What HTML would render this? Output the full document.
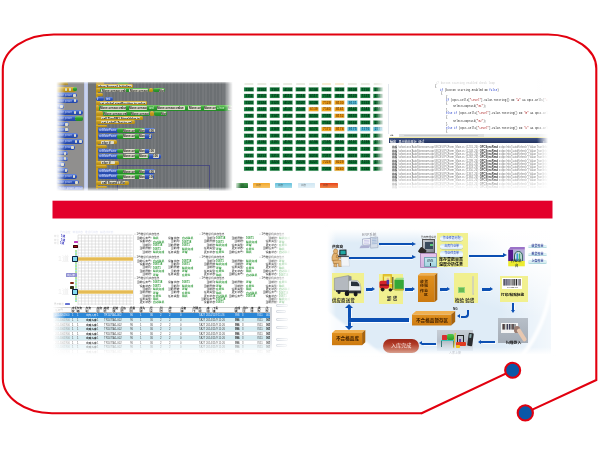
<!DOCTYPE html>
<html lang="zh"><head><meta charset="utf-8"><title>WMS</title><style>
html,body{margin:0;padding:0;background:#fff;}
body{width:600px;height:450px;position:relative;overflow:hidden;font-family:"Liberation Sans","Noto Sans CJK SC",sans-serif;}
div,span{position:absolute;box-sizing:border-box;}
.layer{left:0;top:0;width:600px;height:450px;}
.t{white-space:nowrap;line-height:1;}
.m{white-space:nowrap;line-height:1;font-family:"Liberation Mono","Noto Sans CJK SC",monospace;}
.s{transform:scale(.25);transform-origin:0 0;}
.frame{position:absolute;left:0;top:0;}
.bar{left:52.5px;top:200.7px;width:500px;height:17.8px;background:#e3002a;}
</style></head><body>
<div class="layer" style="filter:blur(0.5px)"><div style="left:56.00px;top:81.50px;width:28.00px;height:109.60px;background:#908f8e;"></div><div style="left:83.50px;top:81.50px;width:4.00px;height:109.60px;background:linear-gradient(90deg,#b2bee2,#d0d8f2 50%,#b6c2e4);"></div><div style="left:87.50px;top:81.50px;width:145.00px;height:109.60px;background:repeating-linear-gradient(90deg,#6c7073 0 1.7px,#75787b 1.7px 3.4px);"></div><div style="left:87.50px;top:81.50px;width:8.00px;height:109.60px;background:#727577;"></div><div style="left:117.00px;top:164.60px;width:92.50px;height:26.00px;border:0.6px solid #3d3f80;border-bottom:none;opacity:.75;"></div><div style="left:56.00px;top:87.00px;width:20.00px;height:4.50px;background:linear-gradient(#e3c25a,#c49a1c 45%,#b48a12);border-radius:0 2px 2px 0;"></div><div style="left:73.00px;top:87.30px;width:4.00px;height:3.90px;background:linear-gradient(#7fd070,#2f9e30 45%,#238a26);border-radius:1.5px;"></div><div style="left:65.00px;top:87.80px;width:2.20px;height:2.90px;background:#dedccb;border-radius:.8px;"></div><div style="left:69.00px;top:87.80px;width:2.20px;height:2.90px;background:#dedccb;border-radius:.8px;"></div><div style="left:54.00px;top:92.70px;width:23.00px;height:4.60px;background:linear-gradient(#6f8fe0,#2f55bb 45%,#2446a6);border-radius:0 2.2px 2.2px 0;overflow:hidden;"><span class="t s" style="left:3.00px;top:1.00px;font-size:10.80px;color:#c4cef4;">motor power</span></div><div style="left:73.40px;top:93.50px;width:2.30px;height:3.00px;background:#dedccb;border-radius:.8px;"></div><div style="left:54.00px;top:98.50px;width:23.50px;height:4.70px;background:linear-gradient(#6f8fe0,#2f55bb 45%,#2446a6);border-radius:0 2.2px 2.2px 0;overflow:hidden;"><span class="t s" style="left:3.00px;top:1.00px;font-size:10.80px;color:#c4cef4;">motor power</span></div><div style="left:73.90px;top:99.30px;width:2.30px;height:3.10px;background:#dedccb;border-radius:.8px;"></div><div style="left:54.00px;top:104.40px;width:10.00px;height:4.70px;background:linear-gradient(#6f8fe0,#2f55bb 45%,#2446a6);border-radius:0 2.2px 2.2px 0;overflow:hidden;"><span class="t s" style="left:3.00px;top:1.00px;font-size:10.80px;color:#c4cef4;">motor power</span></div><div style="left:60.40px;top:105.20px;width:2.30px;height:3.10px;background:#dedccb;border-radius:.8px;"></div><div style="left:54.00px;top:110.20px;width:28.50px;height:4.70px;background:linear-gradient(#6f8fe0,#2f55bb 45%,#2446a6);border-radius:0 2.2px 2.2px 0;overflow:hidden;"><span class="t s" style="left:3.00px;top:1.00px;font-size:10.80px;color:#c4cef4;">motor power</span></div><div style="left:78.90px;top:111.00px;width:2.30px;height:3.10px;background:#dedccb;border-radius:.8px;"></div><div style="left:74.00px;top:111.00px;width:2.30px;height:3.10px;background:#dedccb;border-radius:.8px;"></div><div style="left:54.00px;top:116.00px;width:29.30px;height:4.70px;background:linear-gradient(#6f8fe0,#2f55bb 45%,#2446a6);border-radius:0 2.2px 2.2px 0;overflow:hidden;"><span class="t s" style="left:3.00px;top:1.00px;font-size:10.80px;color:#c4cef4;">motor power</span></div><div style="left:79.70px;top:116.80px;width:2.30px;height:3.10px;background:#dedccb;border-radius:.8px;"></div><div style="left:74.80px;top:116.80px;width:2.30px;height:3.10px;background:#dedccb;border-radius:.8px;"></div><div style="left:75.30px;top:116.00px;width:8.00px;height:4.70px;background:linear-gradient(#7fd070,#2f9e30 45%,#238a26);border-radius:2px;"></div><div style="left:54.00px;top:121.80px;width:15.00px;height:4.70px;background:linear-gradient(#6f8fe0,#2f55bb 45%,#2446a6);border-radius:0 2.2px 2.2px 0;overflow:hidden;"><span class="t s" style="left:3.00px;top:1.00px;font-size:10.80px;color:#c4cef4;">motor power</span></div><div style="left:65.40px;top:122.60px;width:2.30px;height:3.10px;background:#dedccb;border-radius:.8px;"></div><div style="left:54.00px;top:127.60px;width:15.00px;height:4.70px;background:linear-gradient(#6f8fe0,#2f55bb 45%,#2446a6);border-radius:0 2.2px 2.2px 0;overflow:hidden;"><span class="t s" style="left:3.00px;top:1.00px;font-size:10.80px;color:#c4cef4;">motor power</span></div><div style="left:65.40px;top:128.40px;width:2.30px;height:3.10px;background:#dedccb;border-radius:.8px;"></div><div style="left:54.00px;top:133.40px;width:23.50px;height:4.70px;background:linear-gradient(#6f8fe0,#2f55bb 45%,#2446a6);border-radius:0 2.2px 2.2px 0;overflow:hidden;"><span class="t s" style="left:3.00px;top:1.00px;font-size:10.80px;color:#c4cef4;">motor power</span></div><div style="left:73.90px;top:134.20px;width:2.30px;height:3.10px;background:#dedccb;border-radius:.8px;"></div><div style="left:54.00px;top:139.20px;width:29.00px;height:4.70px;background:linear-gradient(#6f8fe0,#2f55bb 45%,#2446a6);border-radius:0 2.2px 2.2px 0;overflow:hidden;"><span class="t s" style="left:3.00px;top:1.00px;font-size:10.80px;color:#c4cef4;">motor power</span></div><div style="left:79.40px;top:140.00px;width:2.30px;height:3.10px;background:#dedccb;border-radius:.8px;"></div><div style="left:74.50px;top:140.00px;width:2.30px;height:3.10px;background:#dedccb;border-radius:.8px;"></div><div style="left:54.00px;top:145.00px;width:21.00px;height:4.70px;background:linear-gradient(#6f8fe0,#2f55bb 45%,#2446a6);border-radius:0 2.2px 2.2px 0;overflow:hidden;"><span class="t s" style="left:3.00px;top:1.00px;font-size:10.80px;color:#c4cef4;">motor power</span></div><div style="left:71.40px;top:145.80px;width:2.30px;height:3.10px;background:#dedccb;border-radius:.8px;"></div><div style="left:54.00px;top:150.80px;width:13.50px;height:4.70px;background:linear-gradient(#6f8fe0,#2f55bb 45%,#2446a6);border-radius:0 2.2px 2.2px 0;overflow:hidden;"><span class="t s" style="left:3.00px;top:1.00px;font-size:10.80px;color:#c4cef4;">motor power</span></div><div style="left:63.90px;top:151.60px;width:2.30px;height:3.10px;background:#dedccb;border-radius:.8px;"></div><div style="left:54.00px;top:156.60px;width:13.50px;height:4.70px;background:linear-gradient(#6f8fe0,#2f55bb 45%,#2446a6);border-radius:0 2.2px 2.2px 0;overflow:hidden;"><span class="t s" style="left:3.00px;top:1.00px;font-size:10.80px;color:#c4cef4;">motor power</span></div><div style="left:63.90px;top:157.40px;width:2.30px;height:3.10px;background:#dedccb;border-radius:.8px;"></div><div style="left:54.00px;top:162.40px;width:11.00px;height:4.70px;background:linear-gradient(#6f8fe0,#2f55bb 45%,#2446a6);border-radius:0 2.2px 2.2px 0;overflow:hidden;"><span class="t s" style="left:3.00px;top:1.00px;font-size:10.80px;color:#c4cef4;">motor power</span></div><div style="left:61.40px;top:163.20px;width:2.30px;height:3.10px;background:#dedccb;border-radius:.8px;"></div><div style="left:54.00px;top:168.20px;width:14.30px;height:4.70px;background:linear-gradient(#6f8fe0,#2f55bb 45%,#2446a6);border-radius:0 2.2px 2.2px 0;overflow:hidden;"><span class="t s" style="left:3.00px;top:1.00px;font-size:10.80px;color:#c4cef4;">motor power</span></div><div style="left:64.70px;top:169.00px;width:2.30px;height:3.10px;background:#dedccb;border-radius:.8px;"></div><div style="left:54.00px;top:174.00px;width:22.70px;height:4.70px;background:linear-gradient(#6f8fe0,#2f55bb 45%,#2446a6);border-radius:0 2.2px 2.2px 0;overflow:hidden;"><span class="t s" style="left:3.00px;top:1.00px;font-size:10.80px;color:#c4cef4;">motor power</span></div><div style="left:73.10px;top:174.80px;width:2.30px;height:3.10px;background:#dedccb;border-radius:.8px;"></div><div style="left:54.00px;top:179.80px;width:25.00px;height:4.70px;background:linear-gradient(#6f8fe0,#2f55bb 45%,#2446a6);border-radius:0 2.2px 2.2px 0;overflow:hidden;"><span class="t s" style="left:3.00px;top:1.00px;font-size:10.80px;color:#c4cef4;">motor power</span></div><div style="left:75.40px;top:180.60px;width:2.30px;height:3.10px;background:#dedccb;border-radius:.8px;"></div><div style="left:56.00px;top:185.60px;width:27.30px;height:4.70px;background:#8193d4;border-radius:0 2px 2px 0;overflow:hidden;"><span class="t s" style="left:3.00px;top:1.00px;font-size:10.80px;color:#dfe6ff;">motor power sensor</span></div><div style="left:56.00px;top:82.00px;width:12.00px;height:2.80px;background:linear-gradient(#e3c25a,#c49a1c 45%,#b48a12);border-radius:0 1.5px 0 0;opacity:.75;"></div><div style="left:95.60px;top:84.00px;width:2.20px;height:104.50px;background:#c39a1e;"></div><div style="left:95.80px;top:82.30px;width:8.50px;height:2.00px;background:#cfa83a;border-radius:1px 1px 0 0;opacity:.8;"></div><div style="left:118.00px;top:82.30px;width:10.00px;height:2.00px;background:#58b04c;border-radius:1px 1px 0 0;opacity:.8;"></div><div style="left:96.00px;top:84.00px;width:37.30px;height:3.70px;background:linear-gradient(#e3c25a,#c49a1c 45%,#b48a12);border-radius:1.5px;"></div><div style="left:98.00px;top:84.70px;width:34.00px;height:2.30px;background:#dedccb;border-radius:.8px;overflow:hidden;"><span class="t s" style="left:0.40px;top:-0.10px;font-size:12.00px;color:#1a1a1a;font-weight:bold;">when Screen1.Initialize do</span></div><div style="left:96.00px;top:88.30px;width:4.50px;height:4.00px;background:linear-gradient(#e3c25a,#c49a1c 45%,#b48a12);border-radius:1.5px;"></div><div style="left:100.00px;top:88.30px;width:48.70px;height:4.00px;background:linear-gradient(#7fd070,#2f9e30 45%,#238a26);border-radius:2px;"></div><div style="left:101.30px;top:89.00px;width:24.70px;height:2.60px;background:#dedccb;border-radius:.8px;overflow:hidden;"><span class="t s" style="left:0.40px;top:-0.10px;font-size:12.00px;color:#1a1a1a;font-weight:bold;">Move.sensor.value</span></div><div style="left:129.30px;top:89.00px;width:18.70px;height:2.60px;background:#dedccb;border-radius:.8px;overflow:hidden;"><span class="t s" style="left:0.40px;top:-0.10px;font-size:12.00px;color:#1a1a1a;font-weight:bold;">Move.sensor.value</span></div><div style="left:148.70px;top:88.30px;width:4.00px;height:4.00px;background:linear-gradient(#e3c25a,#c49a1c 45%,#b48a12);border-radius:1.5px;"></div><div style="left:152.70px;top:88.30px;width:12.00px;height:4.00px;background:linear-gradient(#7fd070,#2f9e30 45%,#238a26);border-radius:2px;"></div><div style="left:158.50px;top:89.00px;width:5.00px;height:2.60px;background:#dedccb;border-radius:.8px;overflow:hidden;"><span class="t s" style="left:0.40px;top:-0.10px;font-size:12.00px;color:#1a1a1a;font-weight:bold;">Move.sensor.value</span></div><div style="left:96.00px;top:93.00px;width:6.70px;height:2.70px;background:linear-gradient(#e3c25a,#c49a1c 45%,#b48a12);border-radius:1.5px;"></div><div style="left:96.40px;top:96.70px;width:7.60px;height:4.00px;background:linear-gradient(#6f8fe0,#2f55bb 45%,#2446a6);border-radius:2px;"></div><div style="left:104.70px;top:96.70px;width:8.60px;height:4.00px;background:linear-gradient(#6f8fe0,#2f55bb 45%,#2446a6);border-radius:2px;"></div><span class="t s" style="left:97.40px;top:97.60px;font-size:10.40px;color:#fff;">if</span><span class="t s" style="left:106.00px;top:97.60px;font-size:10.40px;color:#fff;">test</span><div style="left:96.00px;top:101.00px;width:51.30px;height:3.70px;background:linear-gradient(#e3c25a,#c49a1c 45%,#b48a12);border-radius:1.5px;"></div><div style="left:100.00px;top:101.70px;width:46.00px;height:2.30px;background:#dedccb;border-radius:.8px;overflow:hidden;"><span class="t s" style="left:0.40px;top:-0.10px;font-size:12.00px;color:#1a1a1a;font-weight:bold;">set global startPosition to value</span></div><div style="left:96.00px;top:105.20px;width:3.30px;height:5.40px;background:linear-gradient(#e3c25a,#c49a1c 45%,#b48a12);border-radius:1.5px;"></div><div style="left:98.80px;top:105.20px;width:133.70px;height:5.40px;background:linear-gradient(#7fd070,#2f9e30 45%,#238a26);border-radius:2px;"></div><div style="left:99.80px;top:105.90px;width:26.20px;height:4.00px;background:#dedccb;border-radius:.8px;overflow:hidden;"><span class="t s" style="left:0.40px;top:-0.10px;font-size:12.00px;color:#1a1a1a;font-weight:bold;">Move.sensor.value</span></div><div style="left:128.70px;top:105.90px;width:18.60px;height:4.00px;background:#dedccb;border-radius:.8px;overflow:hidden;"><span class="t s" style="left:0.40px;top:-0.10px;font-size:12.00px;color:#1a1a1a;font-weight:bold;">Move.sensor.value</span></div><div style="left:156.70px;top:105.90px;width:28.30px;height:4.00px;background:#dedccb;border-radius:.8px;overflow:hidden;"><span class="t s" style="left:0.40px;top:-0.10px;font-size:12.00px;color:#1a1a1a;font-weight:bold;">Move.sensor.value</span></div><div style="left:188.30px;top:105.90px;width:12.50px;height:4.00px;background:#dedccb;border-radius:.8px;overflow:hidden;"><span class="t s" style="left:0.40px;top:-0.10px;font-size:12.00px;color:#1a1a1a;font-weight:bold;">Move.sensor.value</span></div><div style="left:204.00px;top:105.90px;width:11.80px;height:4.00px;background:#dedccb;border-radius:.8px;overflow:hidden;"><span class="t s" style="left:0.40px;top:-0.10px;font-size:12.00px;color:#1a1a1a;font-weight:bold;">Move.sensor.value</span></div><div style="left:228.00px;top:105.90px;width:4.00px;height:4.00px;background:#dedccb;border-radius:.8px;overflow:hidden;"><span class="t s" style="left:0.40px;top:-0.10px;font-size:12.00px;color:#1a1a1a;font-weight:bold;">Move.sensor.value</span></div><span class="t s" style="left:149.00px;top:106.80px;font-size:11.20px;color:#e8ffe0;">and</span><span class="t s" style="left:217.00px;top:106.80px;font-size:11.20px;color:#e8ffe0;">= true</span><div style="left:96.00px;top:111.00px;width:7.30px;height:4.70px;background:linear-gradient(#e3c25a,#c49a1c 45%,#b48a12);border-radius:1.5px;"></div><div style="left:102.80px;top:111.00px;width:47.20px;height:4.70px;background:linear-gradient(#7fd070,#2f9e30 45%,#238a26);border-radius:2px;"></div><div style="left:103.60px;top:111.70px;width:23.10px;height:3.30px;background:#dedccb;border-radius:.8px;overflow:hidden;"><span class="t s" style="left:0.40px;top:-0.10px;font-size:12.00px;color:#1a1a1a;font-weight:bold;">Move.sensor.value</span></div><div style="left:130.70px;top:111.70px;width:18.60px;height:3.30px;background:#dedccb;border-radius:.8px;overflow:hidden;"><span class="t s" style="left:0.40px;top:-0.10px;font-size:12.00px;color:#1a1a1a;font-weight:bold;">Move.sensor.value</span></div><div style="left:150.00px;top:111.00px;width:4.00px;height:4.70px;background:linear-gradient(#e3c25a,#c49a1c 45%,#b48a12);border-radius:1.5px;"></div><div style="left:154.00px;top:111.00px;width:13.30px;height:4.70px;background:linear-gradient(#7fd070,#2f9e30 45%,#238a26);border-radius:2px;"></div><div style="left:160.50px;top:111.70px;width:5.50px;height:3.30px;background:#dedccb;border-radius:.8px;overflow:hidden;"><span class="t s" style="left:0.40px;top:-0.10px;font-size:12.00px;color:#1a1a1a;font-weight:bold;">Move.sensor.value</span></div><div style="left:96.00px;top:116.30px;width:47.30px;height:3.40px;background:linear-gradient(#e3c25a,#c49a1c 45%,#b48a12);border-radius:1.5px;"></div><div style="left:101.30px;top:117.00px;width:38.70px;height:2.00px;background:#dedccb;border-radius:.8px;overflow:hidden;"><span class="t s" style="left:0.40px;top:-0.10px;font-size:12.00px;color:#1a1a1a;font-weight:bold;">call TinyDB1.StoreValue tag</span></div><div style="left:96.00px;top:120.30px;width:39.30px;height:3.40px;background:linear-gradient(#e3c25a,#c49a1c 45%,#b48a12);border-radius:1.5px;"></div><div style="left:101.30px;top:121.00px;width:30.70px;height:2.00px;background:#dedccb;border-radius:.8px;overflow:hidden;"><span class="t s" style="left:0.40px;top:-0.10px;font-size:12.00px;color:#1a1a1a;font-weight:bold;">set Label1.Text to value</span></div><div style="left:96.00px;top:124.70px;width:10.70px;height:2.60px;background:linear-gradient(#e3c25a,#c49a1c 45%,#b48a12);border-radius:1.5px;"></div><div style="left:98.00px;top:128.00px;width:57.30px;height:5.00px;background:linear-gradient(#6f8fe0,#2f55bb 45%,#2446a6);border-radius:2px;"></div><span class="t s" style="left:99.20px;top:129.00px;font-size:10.40px;color:#e8ecff;">setMotorPower</span><div style="left:116.70px;top:128.00px;width:28.00px;height:5.00px;background:linear-gradient(#7fd070,#2f9e30 45%,#238a26);border-radius:2px;"></div><div style="left:122.70px;top:128.70px;width:12.00px;height:3.60px;background:#dedccb;border-radius:.8px;overflow:hidden;"><span class="t s" style="left:0.40px;top:-0.10px;font-size:12.00px;color:#1a1a1a;font-weight:bold;">Move.sensor.value</span></div><div style="left:138.70px;top:128.70px;width:6.00px;height:3.60px;background:#dedccb;border-radius:.8px;overflow:hidden;"><span class="t s" style="left:0.40px;top:-0.10px;font-size:12.00px;color:#1a1a1a;font-weight:bold;">Move.sensor.value</span></div><div style="left:148.70px;top:128.70px;width:6.00px;height:3.60px;background:#dedccb;border-radius:.8px;overflow:hidden;"><span class="t s" style="left:0.40px;top:-0.10px;font-size:12.00px;color:#1a1a1a;font-weight:bold;">100</span></div><div style="left:98.00px;top:133.60px;width:54.00px;height:5.10px;background:linear-gradient(#6f8fe0,#2f55bb 45%,#2446a6);border-radius:2px;"></div><span class="t s" style="left:99.20px;top:134.60px;font-size:10.40px;color:#e8ecff;">setMotorPower</span><div style="left:116.70px;top:133.60px;width:28.00px;height:5.10px;background:linear-gradient(#7fd070,#2f9e30 45%,#238a26);border-radius:2px;"></div><div style="left:122.70px;top:134.30px;width:12.00px;height:3.70px;background:#dedccb;border-radius:.8px;overflow:hidden;"><span class="t s" style="left:0.40px;top:-0.10px;font-size:12.00px;color:#1a1a1a;font-weight:bold;">Move.sensor.value</span></div><div style="left:138.70px;top:134.30px;width:6.00px;height:3.70px;background:#dedccb;border-radius:.8px;overflow:hidden;"><span class="t s" style="left:0.40px;top:-0.10px;font-size:12.00px;color:#1a1a1a;font-weight:bold;">Move.sensor.value</span></div><div style="left:148.70px;top:134.30px;width:2.60px;height:3.70px;background:#dedccb;border-radius:.8px;overflow:hidden;"><span class="t s" style="left:0.40px;top:-0.10px;font-size:12.00px;color:#1a1a1a;font-weight:bold;">100</span></div><div style="left:96.00px;top:140.00px;width:21.30px;height:4.30px;background:linear-gradient(#e3c25a,#c49a1c 45%,#b48a12);border-radius:1.5px;"></div><div style="left:101.30px;top:140.70px;width:12.70px;height:2.90px;background:#dedccb;border-radius:.8px;overflow:hidden;"><span class="t s" style="left:0.40px;top:-0.10px;font-size:12.00px;color:#1a1a1a;font-weight:bold;">else if</span></div><div style="left:96.00px;top:145.00px;width:10.70px;height:3.00px;background:linear-gradient(#e3c25a,#c49a1c 45%,#b48a12);border-radius:1.5px;"></div><div style="left:98.00px;top:148.70px;width:57.30px;height:4.60px;background:linear-gradient(#6f8fe0,#2f55bb 45%,#2446a6);border-radius:2px;"></div><span class="t s" style="left:99.20px;top:149.70px;font-size:10.40px;color:#e8ecff;">setMotorPower</span><div style="left:116.70px;top:148.70px;width:28.00px;height:4.60px;background:linear-gradient(#7fd070,#2f9e30 45%,#238a26);border-radius:2px;"></div><div style="left:122.70px;top:149.40px;width:12.00px;height:3.20px;background:#dedccb;border-radius:.8px;overflow:hidden;"><span class="t s" style="left:0.40px;top:-0.10px;font-size:12.00px;color:#1a1a1a;font-weight:bold;">Move.sensor.value</span></div><div style="left:138.70px;top:149.40px;width:6.00px;height:3.20px;background:#dedccb;border-radius:.8px;overflow:hidden;"><span class="t s" style="left:0.40px;top:-0.10px;font-size:12.00px;color:#1a1a1a;font-weight:bold;">Move.sensor.value</span></div><div style="left:148.70px;top:149.40px;width:6.00px;height:3.20px;background:#dedccb;border-radius:.8px;overflow:hidden;"><span class="t s" style="left:0.40px;top:-0.10px;font-size:12.00px;color:#1a1a1a;font-weight:bold;">100</span></div><div style="left:98.00px;top:153.70px;width:62.70px;height:5.30px;background:linear-gradient(#6f8fe0,#2f55bb 45%,#2446a6);border-radius:2px;"></div><span class="t s" style="left:99.20px;top:154.70px;font-size:10.40px;color:#e8ecff;">setMotorPower</span><div style="left:116.70px;top:153.70px;width:32.00px;height:5.30px;background:linear-gradient(#7fd070,#2f9e30 45%,#238a26);border-radius:2px;"></div><div style="left:122.70px;top:154.40px;width:12.00px;height:3.90px;background:#dedccb;border-radius:.8px;overflow:hidden;"><span class="t s" style="left:0.40px;top:-0.10px;font-size:12.00px;color:#1a1a1a;font-weight:bold;">Move.sensor.value</span></div><div style="left:138.70px;top:154.40px;width:9.30px;height:3.90px;background:#dedccb;border-radius:.8px;overflow:hidden;"><span class="t s" style="left:0.40px;top:-0.10px;font-size:12.00px;color:#1a1a1a;font-weight:bold;">Move.sensor.value</span></div><div style="left:152.70px;top:154.40px;width:6.60px;height:3.90px;background:#dedccb;border-radius:.8px;overflow:hidden;"><span class="t s" style="left:0.40px;top:-0.10px;font-size:12.00px;color:#1a1a1a;font-weight:bold;">100</span></div><div style="left:96.00px;top:160.70px;width:23.00px;height:4.00px;background:linear-gradient(#e3c25a,#c49a1c 45%,#b48a12);border-radius:1.5px;"></div><div style="left:101.30px;top:161.40px;width:13.40px;height:2.60px;background:#dedccb;border-radius:.8px;overflow:hidden;"><span class="t s" style="left:0.40px;top:-0.10px;font-size:12.00px;color:#1a1a1a;font-weight:bold;">else if</span></div><div style="left:96.00px;top:165.40px;width:11.00px;height:2.90px;background:linear-gradient(#e3c25a,#c49a1c 45%,#b48a12);border-radius:1.5px;"></div><div style="left:98.00px;top:169.00px;width:57.30px;height:4.70px;background:linear-gradient(#6f8fe0,#2f55bb 45%,#2446a6);border-radius:2px;"></div><span class="t s" style="left:99.20px;top:170.00px;font-size:10.40px;color:#e8ecff;">setMotorPower</span><div style="left:116.70px;top:169.00px;width:28.00px;height:4.70px;background:linear-gradient(#7fd070,#2f9e30 45%,#238a26);border-radius:2px;"></div><div style="left:122.70px;top:169.70px;width:12.00px;height:3.30px;background:#dedccb;border-radius:.8px;overflow:hidden;"><span class="t s" style="left:0.40px;top:-0.10px;font-size:12.00px;color:#1a1a1a;font-weight:bold;">Move.sensor.value</span></div><div style="left:138.70px;top:169.70px;width:6.00px;height:3.30px;background:#dedccb;border-radius:.8px;overflow:hidden;"><span class="t s" style="left:0.40px;top:-0.10px;font-size:12.00px;color:#1a1a1a;font-weight:bold;">Move.sensor.value</span></div><div style="left:148.70px;top:169.70px;width:6.00px;height:3.30px;background:#dedccb;border-radius:.8px;overflow:hidden;"><span class="t s" style="left:0.40px;top:-0.10px;font-size:12.00px;color:#1a1a1a;font-weight:bold;">100</span></div><div style="left:98.00px;top:174.30px;width:56.00px;height:5.00px;background:linear-gradient(#6f8fe0,#2f55bb 45%,#2446a6);border-radius:2px;"></div><span class="t s" style="left:99.20px;top:175.30px;font-size:10.40px;color:#e8ecff;">setMotorPower</span><div style="left:116.70px;top:174.30px;width:28.00px;height:5.00px;background:linear-gradient(#7fd070,#2f9e30 45%,#238a26);border-radius:2px;"></div><div style="left:122.70px;top:175.00px;width:12.00px;height:3.60px;background:#dedccb;border-radius:.8px;overflow:hidden;"><span class="t s" style="left:0.40px;top:-0.10px;font-size:12.00px;color:#1a1a1a;font-weight:bold;">Move.sensor.value</span></div><div style="left:138.70px;top:175.00px;width:6.00px;height:3.60px;background:#dedccb;border-radius:.8px;overflow:hidden;"><span class="t s" style="left:0.40px;top:-0.10px;font-size:12.00px;color:#1a1a1a;font-weight:bold;">Move.sensor.value</span></div><div style="left:148.70px;top:175.00px;width:4.30px;height:3.60px;background:#dedccb;border-radius:.8px;overflow:hidden;"><span class="t s" style="left:0.40px;top:-0.10px;font-size:12.00px;color:#1a1a1a;font-weight:bold;">100</span></div><div style="left:96.00px;top:180.60px;width:32.70px;height:4.40px;background:linear-gradient(#e3c25a,#c49a1c 45%,#b48a12);border-radius:1.5px;"></div><div style="left:101.30px;top:181.30px;width:24.00px;height:3.00px;background:#dedccb;border-radius:.8px;overflow:hidden;"><span class="t s" style="left:0.40px;top:-0.10px;font-size:12.00px;color:#1a1a1a;font-weight:bold;">call Sound1.Vibrate ms</span></div><div style="left:96.00px;top:185.70px;width:11.00px;height:2.60px;background:linear-gradient(#e3c25a,#c49a1c 45%,#b48a12);border-radius:1.5px;"></div><div style="left:54.00px;top:79.00px;width:11.00px;height:113.00px;background:linear-gradient(90deg,#fff 20%,rgba(255,255,255,0));"></div><div style="left:54.00px;top:79.00px;width:181.00px;height:5.00px;background:linear-gradient(#fff 35%,rgba(255,255,255,0));"></div><div style="left:224.00px;top:79.00px;width:11.00px;height:113.00px;background:linear-gradient(90deg,rgba(255,255,255,0),#fff 80%);"></div><div style="left:54.00px;top:186.80px;width:181.00px;height:6.00px;background:linear-gradient(rgba(255,255,255,0),#fff 70%);"></div><div style="left:118.00px;top:189.40px;width:91.00px;height:1.80px;background:linear-gradient(90deg,#f4f4ee,#eef4e8 30%,#f6f0e4 60%,#f2f6ee);opacity:.9;"></div></div>
<div class="layer" style="filter:blur(0.45px)"><svg style="position:absolute;left:230px;top:78px" width="170" height="114" viewBox="230 78 170 114" font-family="Liberation Sans, sans-serif" font-weight="bold"><rect x="244.40" y="83.2" width="9" height="1.5" rx=".5" fill="#d9dccb" opacity=".75"/><rect x="257.33" y="83.2" width="9" height="1.5" rx=".5" fill="#d9dccb" opacity=".75"/><rect x="270.26" y="83.2" width="9" height="1.5" rx=".5" fill="#d9dccb" opacity=".75"/><rect x="283.19" y="83.2" width="9" height="1.5" rx=".5" fill="#d9dccb" opacity=".75"/><rect x="296.12" y="83.2" width="9" height="1.5" rx=".5" fill="#d9dccb" opacity=".75"/><rect x="309.05" y="83.2" width="9" height="1.5" rx=".5" fill="#d9dccb" opacity=".75"/><rect x="321.98" y="83.2" width="9" height="1.5" rx=".5" fill="#f1dcb0" opacity=".75"/><rect x="334.91" y="83.2" width="9" height="1.5" rx=".5" fill="#f1dcb0" opacity=".75"/><rect x="347.84" y="83.2" width="9" height="1.5" rx=".5" fill="#d9dccb" opacity=".75"/><rect x="360.77" y="83.2" width="9" height="1.5" rx=".5" fill="#d9dccb" opacity=".75"/><rect x="373.70" y="83.2" width="9" height="1.5" rx=".5" fill="#d9dccb" opacity=".75"/><rect x="244.00" y="87.30" width="9.8" height="4.1" fill="#0d7636" stroke="rgba(190,205,190,.5)" stroke-width=".5"/><text x="245.40" y="90.50" font-size="3.3" fill="#013314" letter-spacing=".1">1101</text><rect x="256.93" y="87.30" width="9.8" height="4.1" fill="#0d7636" stroke="rgba(190,205,190,.5)" stroke-width=".5"/><text x="258.33" y="90.50" font-size="3.3" fill="#013314" letter-spacing=".1">2102</text><rect x="269.86" y="87.30" width="9.8" height="4.1" fill="#0d7636" stroke="rgba(190,205,190,.5)" stroke-width=".5"/><text x="271.26" y="90.50" font-size="3.3" fill="#013314" letter-spacing=".1">3103</text><rect x="282.79" y="87.30" width="9.8" height="4.1" fill="#0d7636" stroke="rgba(190,205,190,.5)" stroke-width=".5"/><text x="284.19" y="90.50" font-size="3.3" fill="#013314" letter-spacing=".1">4104</text><rect x="295.72" y="87.30" width="9.8" height="4.1" fill="#0d7636" stroke="rgba(190,205,190,.5)" stroke-width=".5"/><text x="297.12" y="90.50" font-size="3.3" fill="#013314" letter-spacing=".1">5105</text><rect x="308.65" y="87.30" width="9.8" height="4.1" fill="#0d7636" stroke="rgba(190,205,190,.5)" stroke-width=".5"/><text x="310.05" y="90.50" font-size="3.3" fill="#013314" letter-spacing=".1">6106</text><rect x="321.58" y="87.30" width="9.8" height="4.1" fill="#0d7636" stroke="rgba(190,205,190,.5)" stroke-width=".5"/><text x="322.98" y="90.50" font-size="3.3" fill="#013314" letter-spacing=".1">7107</text><rect x="334.51" y="87.30" width="9.8" height="4.1" fill="#0d7636" stroke="rgba(190,205,190,.5)" stroke-width=".5"/><text x="335.91" y="90.50" font-size="3.3" fill="#013314" letter-spacing=".1">8108</text><rect x="347.44" y="87.30" width="9.8" height="4.1" fill="#0d7636" stroke="rgba(190,205,190,.5)" stroke-width=".5"/><text x="348.84" y="90.50" font-size="3.3" fill="#013314" letter-spacing=".1">9109</text><rect x="360.37" y="87.30" width="9.8" height="4.1" fill="#0d7636" stroke="rgba(190,205,190,.5)" stroke-width=".5"/><text x="361.77" y="90.50" font-size="3.3" fill="#013314" letter-spacing=".1">1110</text><rect x="373.30" y="87.30" width="9.8" height="4.1" fill="#0d7636" stroke="rgba(190,205,190,.5)" stroke-width=".5"/><text x="374.70" y="90.50" font-size="3.3" fill="#013314" letter-spacing=".1">2111</text><rect x="244.00" y="93.92" width="9.8" height="4.1" fill="#0d7636" stroke="rgba(190,205,190,.5)" stroke-width=".5"/><text x="245.40" y="97.12" font-size="3.3" fill="#013314" letter-spacing=".1">1112</text><rect x="256.93" y="93.92" width="9.8" height="4.1" fill="#0d7636" stroke="rgba(190,205,190,.5)" stroke-width=".5"/><text x="258.33" y="97.12" font-size="3.3" fill="#013314" letter-spacing=".1">2113</text><rect x="269.86" y="93.92" width="9.8" height="4.1" fill="#0d7636" stroke="rgba(190,205,190,.5)" stroke-width=".5"/><text x="271.26" y="97.12" font-size="3.3" fill="#013314" letter-spacing=".1">3114</text><rect x="282.79" y="93.92" width="9.8" height="4.1" fill="#0d7636" stroke="rgba(190,205,190,.5)" stroke-width=".5"/><text x="284.19" y="97.12" font-size="3.3" fill="#013314" letter-spacing=".1">4115</text><rect x="295.72" y="93.92" width="9.8" height="4.1" fill="#0d7636" stroke="rgba(190,205,190,.5)" stroke-width=".5"/><text x="297.12" y="97.12" font-size="3.3" fill="#013314" letter-spacing=".1">5116</text><rect x="308.65" y="93.92" width="9.8" height="4.1" fill="#0d7636" stroke="rgba(190,205,190,.5)" stroke-width=".5"/><text x="310.05" y="97.12" font-size="3.3" fill="#013314" letter-spacing=".1">6117</text><rect x="321.58" y="93.92" width="9.8" height="4.1" fill="#0d7636" stroke="rgba(190,205,190,.5)" stroke-width=".5"/><text x="322.98" y="97.12" font-size="3.3" fill="#013314" letter-spacing=".1">7118</text><rect x="334.51" y="93.92" width="9.8" height="4.1" fill="#0d7636" stroke="rgba(190,205,190,.5)" stroke-width=".5"/><text x="335.91" y="97.12" font-size="3.3" fill="#013314" letter-spacing=".1">8119</text><rect x="347.44" y="93.92" width="9.8" height="4.1" fill="#0d7636" stroke="rgba(190,205,190,.5)" stroke-width=".5"/><text x="348.84" y="97.12" font-size="3.3" fill="#013314" letter-spacing=".1">9120</text><rect x="360.37" y="93.92" width="9.8" height="4.1" fill="#0d7636" stroke="rgba(190,205,190,.5)" stroke-width=".5"/><text x="361.77" y="97.12" font-size="3.3" fill="#013314" letter-spacing=".1">1121</text><rect x="373.30" y="93.92" width="9.8" height="4.1" fill="#0d7636" stroke="rgba(190,205,190,.5)" stroke-width=".5"/><text x="374.70" y="97.12" font-size="3.3" fill="#013314" letter-spacing=".1">2122</text><rect x="244.00" y="100.54" width="9.8" height="4.1" fill="#0d7636" stroke="rgba(190,205,190,.5)" stroke-width=".5"/><text x="245.40" y="103.74" font-size="3.3" fill="#013314" letter-spacing=".1">1123</text><rect x="256.93" y="100.54" width="9.8" height="4.1" fill="#0d7636" stroke="rgba(190,205,190,.5)" stroke-width=".5"/><text x="258.33" y="103.74" font-size="3.3" fill="#013314" letter-spacing=".1">2124</text><rect x="269.86" y="100.54" width="9.8" height="4.1" fill="#0d7636" stroke="rgba(190,205,190,.5)" stroke-width=".5"/><text x="271.26" y="103.74" font-size="3.3" fill="#013314" letter-spacing=".1">3125</text><rect x="282.79" y="100.54" width="9.8" height="4.1" fill="#0d7636" stroke="rgba(190,205,190,.5)" stroke-width=".5"/><text x="284.19" y="103.74" font-size="3.3" fill="#013314" letter-spacing=".1">4126</text><rect x="295.72" y="100.54" width="9.8" height="4.1" fill="#0d7636" stroke="rgba(190,205,190,.5)" stroke-width=".5"/><text x="297.12" y="103.74" font-size="3.3" fill="#013314" letter-spacing=".1">5127</text><rect x="308.65" y="100.54" width="9.8" height="4.1" fill="#0d7636" stroke="rgba(190,205,190,.5)" stroke-width=".5"/><text x="310.05" y="103.74" font-size="3.3" fill="#013314" letter-spacing=".1">6128</text><rect x="321.58" y="100.54" width="9.8" height="4.1" fill="#f0a21a" stroke="rgba(190,205,190,.5)" stroke-width=".5"/><text x="322.98" y="103.74" font-size="3.3" fill="#8a4a00" letter-spacing=".1">7129</text><rect x="334.51" y="100.54" width="9.8" height="4.1" fill="#f0a21a" stroke="rgba(190,205,190,.5)" stroke-width=".5"/><text x="335.91" y="103.74" font-size="3.3" fill="#8a4a00" letter-spacing=".1">8130</text><rect x="347.44" y="100.54" width="9.8" height="4.1" fill="#58bcd8" stroke="rgba(190,205,190,.5)" stroke-width=".5"/><text x="348.84" y="103.74" font-size="3.3" fill="#1a5c78" letter-spacing=".1">9131</text><rect x="360.37" y="100.54" width="9.8" height="4.1" fill="#0d7636" stroke="rgba(190,205,190,.5)" stroke-width=".5"/><text x="361.77" y="103.74" font-size="3.3" fill="#013314" letter-spacing=".1">1132</text><rect x="373.30" y="100.54" width="9.8" height="4.1" fill="#0d7636" stroke="rgba(190,205,190,.5)" stroke-width=".5"/><text x="374.70" y="103.74" font-size="3.3" fill="#013314" letter-spacing=".1">2133</text><rect x="244.00" y="107.16" width="9.8" height="4.1" fill="#0d7636" stroke="rgba(190,205,190,.5)" stroke-width=".5"/><text x="245.40" y="110.36" font-size="3.3" fill="#013314" letter-spacing=".1">1134</text><rect x="256.93" y="107.16" width="9.8" height="4.1" fill="#0d7636" stroke="rgba(190,205,190,.5)" stroke-width=".5"/><text x="258.33" y="110.36" font-size="3.3" fill="#013314" letter-spacing=".1">2135</text><rect x="269.86" y="107.16" width="9.8" height="4.1" fill="#0d7636" stroke="rgba(190,205,190,.5)" stroke-width=".5"/><text x="271.26" y="110.36" font-size="3.3" fill="#013314" letter-spacing=".1">3136</text><rect x="282.79" y="107.16" width="9.8" height="4.1" fill="#0d7636" stroke="rgba(190,205,190,.5)" stroke-width=".5"/><text x="284.19" y="110.36" font-size="3.3" fill="#013314" letter-spacing=".1">4137</text><rect x="295.72" y="107.16" width="9.8" height="4.1" fill="#0d7636" stroke="rgba(190,205,190,.5)" stroke-width=".5"/><text x="297.12" y="110.36" font-size="3.3" fill="#013314" letter-spacing=".1">5138</text><rect x="308.65" y="107.16" width="9.8" height="4.1" fill="#f0a21a" stroke="rgba(190,205,190,.5)" stroke-width=".5"/><text x="310.05" y="110.36" font-size="3.3" fill="#8a4a00" letter-spacing=".1">6139</text><rect x="321.58" y="107.16" width="9.8" height="4.1" fill="#f0a21a" stroke="rgba(190,205,190,.5)" stroke-width=".5"/><text x="322.98" y="110.36" font-size="3.3" fill="#8a4a00" letter-spacing=".1">7140</text><rect x="334.51" y="107.16" width="9.8" height="4.1" fill="#f0a21a" stroke="rgba(190,205,190,.5)" stroke-width=".5"/><text x="335.91" y="110.36" font-size="3.3" fill="#8a4a00" letter-spacing=".1">8141</text><rect x="347.44" y="107.16" width="9.8" height="4.1" fill="#0d7636" stroke="rgba(190,205,190,.5)" stroke-width=".5"/><text x="348.84" y="110.36" font-size="3.3" fill="#013314" letter-spacing=".1">9142</text><rect x="360.37" y="107.16" width="9.8" height="4.1" fill="#0d7636" stroke="rgba(190,205,190,.5)" stroke-width=".5"/><text x="361.77" y="110.36" font-size="3.3" fill="#013314" letter-spacing=".1">1143</text><rect x="373.30" y="107.16" width="9.8" height="4.1" fill="#0d7636" stroke="rgba(190,205,190,.5)" stroke-width=".5"/><text x="374.70" y="110.36" font-size="3.3" fill="#013314" letter-spacing=".1">2144</text><rect x="244.00" y="113.78" width="9.8" height="4.1" fill="#0d7636" stroke="rgba(190,205,190,.5)" stroke-width=".5"/><text x="245.40" y="116.98" font-size="3.3" fill="#013314" letter-spacing=".1">1145</text><rect x="256.93" y="113.78" width="9.8" height="4.1" fill="#0d7636" stroke="rgba(190,205,190,.5)" stroke-width=".5"/><text x="258.33" y="116.98" font-size="3.3" fill="#013314" letter-spacing=".1">2146</text><rect x="269.86" y="113.78" width="9.8" height="4.1" fill="#0d7636" stroke="rgba(190,205,190,.5)" stroke-width=".5"/><text x="271.26" y="116.98" font-size="3.3" fill="#013314" letter-spacing=".1">3147</text><rect x="282.79" y="113.78" width="9.8" height="4.1" fill="#0d7636" stroke="rgba(190,205,190,.5)" stroke-width=".5"/><text x="284.19" y="116.98" font-size="3.3" fill="#013314" letter-spacing=".1">4148</text><rect x="295.72" y="113.78" width="9.8" height="4.1" fill="#0d7636" stroke="rgba(190,205,190,.5)" stroke-width=".5"/><text x="297.12" y="116.98" font-size="3.3" fill="#013314" letter-spacing=".1">5149</text><rect x="308.65" y="113.78" width="9.8" height="4.1" fill="#0d7636" stroke="rgba(190,205,190,.5)" stroke-width=".5"/><text x="310.05" y="116.98" font-size="3.3" fill="#013314" letter-spacing=".1">6150</text><rect x="321.58" y="113.78" width="9.8" height="4.1" fill="#0d7636" stroke="rgba(190,205,190,.5)" stroke-width=".5"/><text x="322.98" y="116.98" font-size="3.3" fill="#013314" letter-spacing=".1">7151</text><rect x="334.51" y="113.78" width="9.8" height="4.1" fill="#f0a21a" stroke="rgba(190,205,190,.5)" stroke-width=".5"/><text x="335.91" y="116.98" font-size="3.3" fill="#8a4a00" letter-spacing=".1">8152</text><rect x="347.44" y="113.78" width="9.8" height="4.1" fill="#0d7636" stroke="rgba(190,205,190,.5)" stroke-width=".5"/><text x="348.84" y="116.98" font-size="3.3" fill="#013314" letter-spacing=".1">9153</text><rect x="360.37" y="113.78" width="9.8" height="4.1" fill="#0d7636" stroke="rgba(190,205,190,.5)" stroke-width=".5"/><text x="361.77" y="116.98" font-size="3.3" fill="#013314" letter-spacing=".1">1154</text><rect x="373.30" y="113.78" width="9.8" height="4.1" fill="#0d7636" stroke="rgba(190,205,190,.5)" stroke-width=".5"/><text x="374.70" y="116.98" font-size="3.3" fill="#013314" letter-spacing=".1">2155</text><rect x="244.00" y="120.40" width="9.8" height="4.1" fill="#0d7636" stroke="rgba(190,205,190,.5)" stroke-width=".5"/><text x="245.40" y="123.60" font-size="3.3" fill="#013314" letter-spacing=".1">1156</text><rect x="256.93" y="120.40" width="9.8" height="4.1" fill="#0d7636" stroke="rgba(190,205,190,.5)" stroke-width=".5"/><text x="258.33" y="123.60" font-size="3.3" fill="#013314" letter-spacing=".1">2157</text><rect x="269.86" y="120.40" width="9.8" height="4.1" fill="#0d7636" stroke="rgba(190,205,190,.5)" stroke-width=".5"/><text x="271.26" y="123.60" font-size="3.3" fill="#013314" letter-spacing=".1">3158</text><rect x="282.79" y="120.40" width="9.8" height="4.1" fill="#0d7636" stroke="rgba(190,205,190,.5)" stroke-width=".5"/><text x="284.19" y="123.60" font-size="3.3" fill="#013314" letter-spacing=".1">4159</text><rect x="295.72" y="120.40" width="9.8" height="4.1" fill="#0d7636" stroke="rgba(190,205,190,.5)" stroke-width=".5"/><text x="297.12" y="123.60" font-size="3.3" fill="#013314" letter-spacing=".1">5160</text><rect x="308.65" y="120.40" width="9.8" height="4.1" fill="#0d7636" stroke="rgba(190,205,190,.5)" stroke-width=".5"/><text x="310.05" y="123.60" font-size="3.3" fill="#013314" letter-spacing=".1">6161</text><rect x="321.58" y="120.40" width="9.8" height="4.1" fill="#0d7636" stroke="rgba(190,205,190,.5)" stroke-width=".5"/><text x="322.98" y="123.60" font-size="3.3" fill="#013314" letter-spacing=".1">7162</text><rect x="334.51" y="120.40" width="9.8" height="4.1" fill="#0d7636" stroke="rgba(190,205,190,.5)" stroke-width=".5"/><text x="335.91" y="123.60" font-size="3.3" fill="#013314" letter-spacing=".1">8163</text><rect x="347.44" y="120.40" width="9.8" height="4.1" fill="#0d7636" stroke="rgba(190,205,190,.5)" stroke-width=".5"/><text x="348.84" y="123.60" font-size="3.3" fill="#013314" letter-spacing=".1">9164</text><rect x="360.37" y="120.40" width="9.8" height="4.1" fill="#0d7636" stroke="rgba(190,205,190,.5)" stroke-width=".5"/><text x="361.77" y="123.60" font-size="3.3" fill="#013314" letter-spacing=".1">1165</text><rect x="373.30" y="120.40" width="9.8" height="4.1" fill="#0d7636" stroke="rgba(190,205,190,.5)" stroke-width=".5"/><text x="374.70" y="123.60" font-size="3.3" fill="#013314" letter-spacing=".1">2166</text><rect x="244.00" y="127.02" width="9.8" height="4.1" fill="#0d7636" stroke="rgba(190,205,190,.5)" stroke-width=".5"/><text x="245.40" y="130.22" font-size="3.3" fill="#013314" letter-spacing=".1">1167</text><rect x="256.93" y="127.02" width="9.8" height="4.1" fill="#0d7636" stroke="rgba(190,205,190,.5)" stroke-width=".5"/><text x="258.33" y="130.22" font-size="3.3" fill="#013314" letter-spacing=".1">2168</text><rect x="269.86" y="127.02" width="9.8" height="4.1" fill="#0d7636" stroke="rgba(190,205,190,.5)" stroke-width=".5"/><text x="271.26" y="130.22" font-size="3.3" fill="#013314" letter-spacing=".1">3169</text><rect x="282.79" y="127.02" width="9.8" height="4.1" fill="#0d7636" stroke="rgba(190,205,190,.5)" stroke-width=".5"/><text x="284.19" y="130.22" font-size="3.3" fill="#013314" letter-spacing=".1">4170</text><rect x="295.72" y="127.02" width="9.8" height="4.1" fill="#0d7636" stroke="rgba(190,205,190,.5)" stroke-width=".5"/><text x="297.12" y="130.22" font-size="3.3" fill="#013314" letter-spacing=".1">5171</text><rect x="308.65" y="127.02" width="9.8" height="4.1" fill="#0d7636" stroke="rgba(190,205,190,.5)" stroke-width=".5"/><text x="310.05" y="130.22" font-size="3.3" fill="#013314" letter-spacing=".1">6172</text><rect x="321.58" y="127.02" width="9.8" height="4.1" fill="#f0a21a" stroke="rgba(190,205,190,.5)" stroke-width=".5"/><text x="322.98" y="130.22" font-size="3.3" fill="#8a4a00" letter-spacing=".1">7173</text><rect x="334.51" y="127.02" width="9.8" height="4.1" fill="#f0a21a" stroke="rgba(190,205,190,.5)" stroke-width=".5"/><text x="335.91" y="130.22" font-size="3.3" fill="#8a4a00" letter-spacing=".1">8174</text><rect x="347.44" y="127.02" width="9.8" height="4.1" fill="#58bcd8" stroke="rgba(190,205,190,.5)" stroke-width=".5"/><text x="348.84" y="130.22" font-size="3.3" fill="#1a5c78" letter-spacing=".1">9175</text><rect x="360.37" y="127.02" width="9.8" height="4.1" fill="#58bcd8" stroke="rgba(190,205,190,.5)" stroke-width=".5"/><text x="361.77" y="130.22" font-size="3.3" fill="#1a5c78" letter-spacing=".1">1176</text><rect x="373.30" y="127.02" width="9.8" height="4.1" fill="#58bcd8" stroke="rgba(190,205,190,.5)" stroke-width=".5"/><text x="374.70" y="130.22" font-size="3.3" fill="#1a5c78" letter-spacing=".1">2177</text><rect x="244.00" y="133.64" width="9.8" height="4.1" fill="#0d7636" stroke="rgba(190,205,190,.5)" stroke-width=".5"/><text x="245.40" y="136.84" font-size="3.3" fill="#013314" letter-spacing=".1">1178</text><rect x="256.93" y="133.64" width="9.8" height="4.1" fill="#0d7636" stroke="rgba(190,205,190,.5)" stroke-width=".5"/><text x="258.33" y="136.84" font-size="3.3" fill="#013314" letter-spacing=".1">2179</text><rect x="269.86" y="133.64" width="9.8" height="4.1" fill="#0d7636" stroke="rgba(190,205,190,.5)" stroke-width=".5"/><text x="271.26" y="136.84" font-size="3.3" fill="#013314" letter-spacing=".1">3180</text><rect x="282.79" y="133.64" width="9.8" height="4.1" fill="#0d7636" stroke="rgba(190,205,190,.5)" stroke-width=".5"/><text x="284.19" y="136.84" font-size="3.3" fill="#013314" letter-spacing=".1">4181</text><rect x="295.72" y="133.64" width="9.8" height="4.1" fill="#0d7636" stroke="rgba(190,205,190,.5)" stroke-width=".5"/><text x="297.12" y="136.84" font-size="3.3" fill="#013314" letter-spacing=".1">5182</text><rect x="308.65" y="133.64" width="9.8" height="4.1" fill="#0d7636" stroke="rgba(190,205,190,.5)" stroke-width=".5"/><text x="310.05" y="136.84" font-size="3.3" fill="#013314" letter-spacing=".1">6183</text><rect x="321.58" y="133.64" width="9.8" height="4.1" fill="#0d7636" stroke="rgba(190,205,190,.5)" stroke-width=".5"/><text x="322.98" y="136.84" font-size="3.3" fill="#013314" letter-spacing=".1">7184</text><rect x="334.51" y="133.64" width="9.8" height="4.1" fill="#0d7636" stroke="rgba(190,205,190,.5)" stroke-width=".5"/><text x="335.91" y="136.84" font-size="3.3" fill="#013314" letter-spacing=".1">8185</text><rect x="347.44" y="133.64" width="9.8" height="4.1" fill="#0d7636" stroke="rgba(190,205,190,.5)" stroke-width=".5"/><text x="348.84" y="136.84" font-size="3.3" fill="#013314" letter-spacing=".1">9186</text><rect x="360.37" y="133.64" width="9.8" height="4.1" fill="#0d7636" stroke="rgba(190,205,190,.5)" stroke-width=".5"/><text x="361.77" y="136.84" font-size="3.3" fill="#013314" letter-spacing=".1">1187</text><rect x="373.30" y="133.64" width="9.8" height="4.1" fill="#0d7636" stroke="rgba(190,205,190,.5)" stroke-width=".5"/><text x="374.70" y="136.84" font-size="3.3" fill="#013314" letter-spacing=".1">2188</text><rect x="244.00" y="140.26" width="9.8" height="4.1" fill="#0d7636" stroke="rgba(190,205,190,.5)" stroke-width=".5"/><text x="245.40" y="143.46" font-size="3.3" fill="#013314" letter-spacing=".1">1189</text><rect x="256.93" y="140.26" width="9.8" height="4.1" fill="#0d7636" stroke="rgba(190,205,190,.5)" stroke-width=".5"/><text x="258.33" y="143.46" font-size="3.3" fill="#013314" letter-spacing=".1">2190</text><rect x="269.86" y="140.26" width="9.8" height="4.1" fill="#0d7636" stroke="rgba(190,205,190,.5)" stroke-width=".5"/><text x="271.26" y="143.46" font-size="3.3" fill="#013314" letter-spacing=".1">3191</text><rect x="282.79" y="140.26" width="9.8" height="4.1" fill="#0d7636" stroke="rgba(190,205,190,.5)" stroke-width=".5"/><text x="284.19" y="143.46" font-size="3.3" fill="#013314" letter-spacing=".1">4192</text><rect x="295.72" y="140.26" width="9.8" height="4.1" fill="#0d7636" stroke="rgba(190,205,190,.5)" stroke-width=".5"/><text x="297.12" y="143.46" font-size="3.3" fill="#013314" letter-spacing=".1">5193</text><rect x="308.65" y="140.26" width="9.8" height="4.1" fill="#0d7636" stroke="rgba(190,205,190,.5)" stroke-width=".5"/><text x="310.05" y="143.46" font-size="3.3" fill="#013314" letter-spacing=".1">6194</text><rect x="321.58" y="140.26" width="9.8" height="4.1" fill="#0d7636" stroke="rgba(190,205,190,.5)" stroke-width=".5"/><text x="322.98" y="143.46" font-size="3.3" fill="#013314" letter-spacing=".1">7195</text><rect x="334.51" y="140.26" width="9.8" height="4.1" fill="#0d7636" stroke="rgba(190,205,190,.5)" stroke-width=".5"/><text x="335.91" y="143.46" font-size="3.3" fill="#013314" letter-spacing=".1">8196</text><rect x="347.44" y="140.26" width="9.8" height="4.1" fill="#0d7636" stroke="rgba(190,205,190,.5)" stroke-width=".5"/><text x="348.84" y="143.46" font-size="3.3" fill="#013314" letter-spacing=".1">9197</text><rect x="360.37" y="140.26" width="9.8" height="4.1" fill="#0d7636" stroke="rgba(190,205,190,.5)" stroke-width=".5"/><text x="361.77" y="143.46" font-size="3.3" fill="#013314" letter-spacing=".1">1198</text><rect x="373.30" y="140.26" width="9.8" height="4.1" fill="#0d7636" stroke="rgba(190,205,190,.5)" stroke-width=".5"/><text x="374.70" y="143.46" font-size="3.3" fill="#013314" letter-spacing=".1">2199</text><rect x="244.00" y="146.88" width="9.8" height="4.1" fill="#0d7636" stroke="rgba(190,205,190,.5)" stroke-width=".5"/><text x="245.40" y="150.08" font-size="3.3" fill="#013314" letter-spacing=".1">1200</text><rect x="256.93" y="146.88" width="9.8" height="4.1" fill="#0d7636" stroke="rgba(190,205,190,.5)" stroke-width=".5"/><text x="258.33" y="150.08" font-size="3.3" fill="#013314" letter-spacing=".1">2201</text><rect x="269.86" y="146.88" width="9.8" height="4.1" fill="#0d7636" stroke="rgba(190,205,190,.5)" stroke-width=".5"/><text x="271.26" y="150.08" font-size="3.3" fill="#013314" letter-spacing=".1">3202</text><rect x="282.79" y="146.88" width="9.8" height="4.1" fill="#0d7636" stroke="rgba(190,205,190,.5)" stroke-width=".5"/><text x="284.19" y="150.08" font-size="3.3" fill="#013314" letter-spacing=".1">4203</text><rect x="295.72" y="146.88" width="9.8" height="4.1" fill="#0d7636" stroke="rgba(190,205,190,.5)" stroke-width=".5"/><text x="297.12" y="150.08" font-size="3.3" fill="#013314" letter-spacing=".1">5204</text><rect x="308.65" y="146.88" width="9.8" height="4.1" fill="#0d7636" stroke="rgba(190,205,190,.5)" stroke-width=".5"/><text x="310.05" y="150.08" font-size="3.3" fill="#013314" letter-spacing=".1">6205</text><rect x="321.58" y="146.88" width="9.8" height="4.1" fill="#0d7636" stroke="rgba(190,205,190,.5)" stroke-width=".5"/><text x="322.98" y="150.08" font-size="3.3" fill="#013314" letter-spacing=".1">7206</text><rect x="334.51" y="146.88" width="9.8" height="4.1" fill="#0d7636" stroke="rgba(190,205,190,.5)" stroke-width=".5"/><text x="335.91" y="150.08" font-size="3.3" fill="#013314" letter-spacing=".1">8207</text><rect x="347.44" y="146.88" width="9.8" height="4.1" fill="#0d7636" stroke="rgba(190,205,190,.5)" stroke-width=".5"/><text x="348.84" y="150.08" font-size="3.3" fill="#013314" letter-spacing=".1">9208</text><rect x="360.37" y="146.88" width="9.8" height="4.1" fill="#0d7636" stroke="rgba(190,205,190,.5)" stroke-width=".5"/><text x="361.77" y="150.08" font-size="3.3" fill="#013314" letter-spacing=".1">1209</text><rect x="373.30" y="146.88" width="9.8" height="4.1" fill="#0d7636" stroke="rgba(190,205,190,.5)" stroke-width=".5"/><text x="374.70" y="150.08" font-size="3.3" fill="#013314" letter-spacing=".1">2210</text><rect x="244.00" y="153.50" width="9.8" height="4.1" fill="#0d7636" stroke="rgba(190,205,190,.5)" stroke-width=".5"/><text x="245.40" y="156.70" font-size="3.3" fill="#013314" letter-spacing=".1">1211</text><rect x="256.93" y="153.50" width="9.8" height="4.1" fill="#0d7636" stroke="rgba(190,205,190,.5)" stroke-width=".5"/><text x="258.33" y="156.70" font-size="3.3" fill="#013314" letter-spacing=".1">2212</text><rect x="269.86" y="153.50" width="9.8" height="4.1" fill="#0d7636" stroke="rgba(190,205,190,.5)" stroke-width=".5"/><text x="271.26" y="156.70" font-size="3.3" fill="#013314" letter-spacing=".1">3213</text><rect x="282.79" y="153.50" width="9.8" height="4.1" fill="#0d7636" stroke="rgba(190,205,190,.5)" stroke-width=".5"/><text x="284.19" y="156.70" font-size="3.3" fill="#013314" letter-spacing=".1">4214</text><rect x="295.72" y="153.50" width="9.8" height="4.1" fill="#0d7636" stroke="rgba(190,205,190,.5)" stroke-width=".5"/><text x="297.12" y="156.70" font-size="3.3" fill="#013314" letter-spacing=".1">5215</text><rect x="308.65" y="153.50" width="9.8" height="4.1" fill="#0d7636" stroke="rgba(190,205,190,.5)" stroke-width=".5"/><text x="310.05" y="156.70" font-size="3.3" fill="#013314" letter-spacing=".1">6216</text><rect x="321.58" y="153.50" width="9.8" height="4.1" fill="#0d7636" stroke="rgba(190,205,190,.5)" stroke-width=".5"/><text x="322.98" y="156.70" font-size="3.3" fill="#013314" letter-spacing=".1">7217</text><rect x="334.51" y="153.50" width="9.8" height="4.1" fill="#0d7636" stroke="rgba(190,205,190,.5)" stroke-width=".5"/><text x="335.91" y="156.70" font-size="3.3" fill="#013314" letter-spacing=".1">8218</text><rect x="347.44" y="153.50" width="9.8" height="4.1" fill="#0d7636" stroke="rgba(190,205,190,.5)" stroke-width=".5"/><text x="348.84" y="156.70" font-size="3.3" fill="#013314" letter-spacing=".1">9219</text><rect x="360.37" y="153.50" width="9.8" height="4.1" fill="#0d7636" stroke="rgba(190,205,190,.5)" stroke-width=".5"/><text x="361.77" y="156.70" font-size="3.3" fill="#013314" letter-spacing=".1">1220</text><rect x="373.30" y="153.50" width="9.8" height="4.1" fill="#0d7636" stroke="rgba(190,205,190,.5)" stroke-width=".5"/><text x="374.70" y="156.70" font-size="3.3" fill="#013314" letter-spacing=".1">2221</text><rect x="244.00" y="160.12" width="9.8" height="4.1" fill="#0d7636" stroke="rgba(190,205,190,.5)" stroke-width=".5"/><text x="245.40" y="163.32" font-size="3.3" fill="#013314" letter-spacing=".1">1222</text><rect x="256.93" y="160.12" width="9.8" height="4.1" fill="#0d7636" stroke="rgba(190,205,190,.5)" stroke-width=".5"/><text x="258.33" y="163.32" font-size="3.3" fill="#013314" letter-spacing=".1">2223</text><rect x="269.86" y="160.12" width="9.8" height="4.1" fill="#0d7636" stroke="rgba(190,205,190,.5)" stroke-width=".5"/><text x="271.26" y="163.32" font-size="3.3" fill="#013314" letter-spacing=".1">3224</text><rect x="282.79" y="160.12" width="9.8" height="4.1" fill="#0d7636" stroke="rgba(190,205,190,.5)" stroke-width=".5"/><text x="284.19" y="163.32" font-size="3.3" fill="#013314" letter-spacing=".1">4225</text><rect x="295.72" y="160.12" width="9.8" height="4.1" fill="#0d7636" stroke="rgba(190,205,190,.5)" stroke-width=".5"/><text x="297.12" y="163.32" font-size="3.3" fill="#013314" letter-spacing=".1">5226</text><rect x="308.65" y="160.12" width="9.8" height="4.1" fill="#0d7636" stroke="rgba(190,205,190,.5)" stroke-width=".5"/><text x="310.05" y="163.32" font-size="3.3" fill="#013314" letter-spacing=".1">6227</text><rect x="321.58" y="160.12" width="9.8" height="4.1" fill="#f0a21a" stroke="rgba(190,205,190,.5)" stroke-width=".5"/><text x="322.98" y="163.32" font-size="3.3" fill="#8a4a00" letter-spacing=".1">7228</text><rect x="334.51" y="160.12" width="9.8" height="4.1" fill="#f0a21a" stroke="rgba(190,205,190,.5)" stroke-width=".5"/><text x="335.91" y="163.32" font-size="3.3" fill="#8a4a00" letter-spacing=".1">8229</text><rect x="347.44" y="160.12" width="9.8" height="4.1" fill="#0d7636" stroke="rgba(190,205,190,.5)" stroke-width=".5"/><text x="348.84" y="163.32" font-size="3.3" fill="#013314" letter-spacing=".1">9230</text><rect x="360.37" y="160.12" width="9.8" height="4.1" fill="#0d7636" stroke="rgba(190,205,190,.5)" stroke-width=".5"/><text x="361.77" y="163.32" font-size="3.3" fill="#013314" letter-spacing=".1">1231</text><rect x="373.30" y="160.12" width="9.8" height="4.1" fill="#0d7636" stroke="rgba(190,205,190,.5)" stroke-width=".5"/><text x="374.70" y="163.32" font-size="3.3" fill="#013314" letter-spacing=".1">2232</text><rect x="244.00" y="166.74" width="9.8" height="4.1" fill="#0d7636" stroke="rgba(190,205,190,.5)" stroke-width=".5"/><text x="245.40" y="169.94" font-size="3.3" fill="#013314" letter-spacing=".1">1233</text><rect x="256.93" y="166.74" width="9.8" height="4.1" fill="#0d7636" stroke="rgba(190,205,190,.5)" stroke-width=".5"/><text x="258.33" y="169.94" font-size="3.3" fill="#013314" letter-spacing=".1">2234</text><rect x="269.86" y="166.74" width="9.8" height="4.1" fill="#0d7636" stroke="rgba(190,205,190,.5)" stroke-width=".5"/><text x="271.26" y="169.94" font-size="3.3" fill="#013314" letter-spacing=".1">3235</text><rect x="282.79" y="166.74" width="9.8" height="4.1" fill="#0d7636" stroke="rgba(190,205,190,.5)" stroke-width=".5"/><text x="284.19" y="169.94" font-size="3.3" fill="#013314" letter-spacing=".1">4236</text><rect x="295.72" y="166.74" width="9.8" height="4.1" fill="#0d7636" stroke="rgba(190,205,190,.5)" stroke-width=".5"/><text x="297.12" y="169.94" font-size="3.3" fill="#013314" letter-spacing=".1">5237</text><rect x="308.65" y="166.74" width="9.8" height="4.1" fill="#0d7636" stroke="rgba(190,205,190,.5)" stroke-width=".5"/><text x="310.05" y="169.94" font-size="3.3" fill="#013314" letter-spacing=".1">6238</text><rect x="321.58" y="166.74" width="9.8" height="4.1" fill="#0d7636" stroke="rgba(190,205,190,.5)" stroke-width=".5"/><text x="322.98" y="169.94" font-size="3.3" fill="#013314" letter-spacing=".1">7239</text><rect x="334.51" y="166.74" width="9.8" height="4.1" fill="#f0a21a" stroke="rgba(190,205,190,.5)" stroke-width=".5"/><text x="335.91" y="169.94" font-size="3.3" fill="#8a4a00" letter-spacing=".1">8240</text><rect x="347.44" y="166.74" width="9.8" height="4.1" fill="#0d7636" stroke="rgba(190,205,190,.5)" stroke-width=".5"/><text x="348.84" y="169.94" font-size="3.3" fill="#013314" letter-spacing=".1">9241</text><rect x="360.37" y="166.74" width="9.8" height="4.1" fill="#0d7636" stroke="rgba(190,205,190,.5)" stroke-width=".5"/><text x="361.77" y="169.94" font-size="3.3" fill="#013314" letter-spacing=".1">1242</text><rect x="373.30" y="166.74" width="9.8" height="4.1" fill="#0d7636" stroke="rgba(190,205,190,.5)" stroke-width=".5"/><text x="374.70" y="169.94" font-size="3.3" fill="#013314" letter-spacing=".1">2243</text></svg><div style="left:236.00px;top:183.00px;width:12.00px;height:4.60px;background:linear-gradient(#4a9a50,#1c6a2c);border-radius:.6px;overflow:hidden;"><span class="t s" style="left:3.00px;top:0.90px;font-size:10.40px;color:rgba(40,40,40,.55);">状态</span></div><div style="left:253.00px;top:183.00px;width:16.70px;height:4.60px;background:linear-gradient(#f3a728,#f7c56a);border-radius:.6px;overflow:hidden;"><span class="t s" style="left:3.00px;top:0.90px;font-size:10.40px;color:rgba(40,40,40,.55);">状态</span></div><div style="left:275.00px;top:183.00px;width:17.00px;height:4.60px;background:linear-gradient(#62c0dc,#a6dcea);border-radius:.6px;overflow:hidden;"><span class="t s" style="left:3.00px;top:0.90px;font-size:10.40px;color:rgba(40,40,40,.55);">状态</span></div><div style="left:297.70px;top:183.00px;width:17.30px;height:4.60px;background:linear-gradient(#cfe6f2,#e4f1f8);border-radius:.6px;overflow:hidden;"><span class="t s" style="left:3.00px;top:0.90px;font-size:10.40px;color:rgba(40,40,40,.55);">状态</span></div><div style="left:320.00px;top:183.00px;width:17.70px;height:4.60px;background:linear-gradient(#e8421a,#f08a4a);border-radius:.6px;overflow:hidden;"><span class="t s" style="left:3.00px;top:0.90px;font-size:10.40px;color:rgba(40,40,40,.55);">状态</span></div><div style="left:375.50px;top:80.00px;width:13.00px;height:96.00px;background:linear-gradient(90deg,rgba(255,255,255,0),#fff 60%);"></div><div style="left:232.00px;top:181.00px;width:9.00px;height:8.00px;background:linear-gradient(90deg,#fff 30%,rgba(255,255,255,0));"></div></div>
<div class="layer" style="filter:blur(0.4px);width:550px;overflow:hidden;"><div style="left:387.80px;top:84.00px;width:1.20px;height:50.00px;background:#e4e8ee;"></div><span class="m s" style="left:436px;top:82.2px;font-size:10.6px;color:#ccc;">// button starting enabled check loop</span><span class="m s" style="left:435.30px;top:85.25px;font-size:10.60px;color:#1e1e1e;">{</span><span class="m s" style="left:440.00px;top:88.55px;font-size:10.60px;color:#1e1e1e;"><b style="color:#1632c8;font-weight:normal">if</b> (button_starting.Enabled == <b style="color:#1632c8;font-weight:normal">false</b>)</span><span class="m s" style="left:441.00px;top:92.15px;font-size:10.60px;color:#1e1e1e;">{</span><span class="m s" style="left:446.00px;top:95.55px;font-size:10.60px;color:#1e1e1e;">{</span><span class="m s" style="left:446.00px;top:98.85px;font-size:10.60px;color:#1e1e1e;"><b style="color:#1632c8;font-weight:normal">if</b> (opcs.Cells[<b style="color:#a81818;font-weight:normal">&quot;Level&quot;</b>].Value.ToString() == <b style="color:#a81818;font-weight:normal">&quot;A&quot;</b> &amp;&amp; opcs.Cells[<b style="color:#a81818;font-weight:normal">&quot;Area&quot;</b>].Value</span><span class="m s" style="left:446.00px;top:102.15px;font-size:10.60px;color:#1e1e1e;">{</span><span class="m s" style="left:452.60px;top:105.35px;font-size:10.60px;color:#1e1e1e;">SelectLoopTask(<b style="color:#a81818;font-weight:normal">&quot;01&quot;</b>);</span><span class="m s" style="left:446.00px;top:108.55px;font-size:10.60px;color:#1e1e1e;">}</span><span class="m s" style="left:446.00px;top:112.35px;font-size:10.60px;color:#1e1e1e;"><b style="color:#1632c8;font-weight:normal">else if</b> (opcs.Cells[<b style="color:#a81818;font-weight:normal">&quot;Level&quot;</b>].Value.ToString() == <b style="color:#a81818;font-weight:normal">&quot;B&quot;</b> &amp;&amp; opcs.Cells[<b style="color:#a81818;font-weight:normal">&quot;Area&quot;</b>].Value</span><span class="m s" style="left:446.00px;top:116.05px;font-size:10.60px;color:#1e1e1e;">{</span><span class="m s" style="left:452.60px;top:119.55px;font-size:10.60px;color:#1e1e1e;">SelectLoopTask(<b style="color:#a81818;font-weight:normal">&quot;02&quot;</b>);</span><span class="m s" style="left:446.00px;top:122.85px;font-size:10.60px;color:#1e1e1e;">}</span><span class="m s" style="left:446.00px;top:126.55px;font-size:10.60px;color:#1e1e1e;"><b style="color:#1632c8;font-weight:normal">else if</b> (opcs.Cells[<b style="color:#a81818;font-weight:normal">&quot;Level&quot;</b>].Value.ToString() == <b style="color:#a81818;font-weight:normal">&quot;C&quot;</b> &amp;&amp; opcs.Cells[<b style="color:#a81818;font-weight:normal">&quot;Area&quot;</b>].Value</span><span class="m s" style="left:446.00px;top:129.85px;font-size:10.60px;color:#1e1e1e;">{</span><span class="t s" style="left:389.50px;top:134.00px;font-size:10.40px;color:#555;">◂ ▸</span><div style="left:399.00px;top:134.00px;width:85.00px;height:2.60px;background:#dcdee0;"></div><div style="left:404.00px;top:134.50px;width:74.00px;height:1.70px;background:#c6c9cd;border-radius:1px;"></div><div style="left:484.00px;top:134.00px;width:64.00px;height:2.50px;background:#eceef0;"></div><div style="left:388.50px;top:136.80px;width:160.00px;height:1.50px;background:#f2eaa6;"></div><div style="left:388.50px;top:138.30px;width:160.00px;height:5.10px;background:linear-gradient(#3d5183,#22325f);"></div><span class="t s" style="left:543.00px;top:139.60px;font-size:12.00px;color:#dde;">x</span><span class="t s" style="left:390.00px;top:139.50px;font-size:12.00px;color:#fff;"><b>输出</b> &nbsp; 显示输出来源 &nbsp;调试</span><span class="t s" style="left:389px;top:146.30px;font-size:10.6px;color:#7a7a7a;opacity:1;">&nbsp;&nbsp;&nbsp;&nbsp;<b style="color:#222">线程</b> 'vshost.exe'AutoStoreroom.opc\WCS\OPCForm_Main.cs: (1231, 26): <b style="color:#333">OPCSyncRead</b> = dpc:Info("autoRefresh")  Value True/Info("autoRefresh") OPCSyncRead</span><span class="t s" style="left:389px;top:149.60px;font-size:10.6px;color:#7a7a7a;opacity:1;">&nbsp;&nbsp;&nbsp;&nbsp;<b style="color:#222">线程</b> 'vshost.exe'AutoStoreroom.opc\WCS\OPCForm_Main.cs: (1248, 26): <b style="color:#333">OPCSyncRead</b> = dpc:Info("autoRefresh")  Value True/Info("autoRefresh") OPCSyncRead</span><span class="t s" style="left:389px;top:152.90px;font-size:10.6px;color:#7a7a7a;opacity:1;">&nbsp;&nbsp;&nbsp;&nbsp;<b style="color:#222">线程</b> 'vshost.exe'AutoStoreroom.opc\WCS\OPCForm_Main.cs: (1265, 26): <b style="color:#333">OPCSyncRead</b> = dpc:Info("autoRefresh")  Value True/Info("autoRefresh") OPCSyncRead</span><span class="t s" style="left:389px;top:156.20px;font-size:10.6px;color:#7a7a7a;opacity:1;">&nbsp;&nbsp;&nbsp;&nbsp;<b style="color:#222">线程</b> 'vshost.exe'AutoStoreroom.opc\WCS\OPCForm_Main.cs: (1282, 26): <b style="color:#333">OPCSyncRead</b> = dpc:Info("autoRefresh")  Value True/Info("autoRefresh") OPCSyncRead</span><span class="t s" style="left:389px;top:159.50px;font-size:10.6px;color:#7a7a7a;opacity:1;">&nbsp;&nbsp;&nbsp;&nbsp;<b style="color:#222">线程</b> 'vshost.exe'AutoStoreroom.opc\WCS\OPCForm_Main.cs: (1299, 26): <b style="color:#333">OPCSyncRead</b> = dpc:Info("autoRefresh")  Value True/Info("autoRefresh") OPCSyncRead</span><span class="t s" style="left:389px;top:162.80px;font-size:10.6px;color:#7a7a7a;opacity:1;">&nbsp;&nbsp;&nbsp;&nbsp;<b style="color:#222">线程</b> 'vshost.exe'AutoStoreroom.opc\WCS\OPCForm_Main.cs: (1316, 26): <b style="color:#333">OPCSyncRead</b> = dpc:Info("autoRefresh")  Value True/Info("autoRefresh") OPCSyncRead</span><span class="t s" style="left:389px;top:166.10px;font-size:10.6px;color:#7a7a7a;opacity:1;">&nbsp;&nbsp;&nbsp;&nbsp;<b style="color:#222">线程</b> 'vshost.exe'AutoStoreroom.opc\WCS\OPCForm_Main.cs: (1333, 26): <b style="color:#333">OPCSyncRead</b> = dpc:Info("autoRefresh")  Value True/Info("autoRefresh") OPCSyncRead</span><span class="t s" style="left:389px;top:169.40px;font-size:10.6px;color:#7a7a7a;opacity:1;">&nbsp;&nbsp;&nbsp;&nbsp;<b style="color:#222">线程</b> 'vshost.exe'AutoStoreroom.opc\WCS\OPCForm_Main.cs: (1350, 26): <b style="color:#333">OPCSyncRead</b> = dpc:Info("autoRefresh")  Value True/Info("autoRefresh") OPCSyncRead</span><span class="t s" style="left:389px;top:172.70px;font-size:10.6px;color:#7a7a7a;opacity:1;">&nbsp;&nbsp;&nbsp;&nbsp;<b style="color:#222">线程</b> 'vshost.exe'AutoStoreroom.opc\WCS\OPCForm_Main.cs: (1367, 26): <b style="color:#333">OPCSyncRead</b> = dpc:Info("autoRefresh")  Value True/Info("autoRefresh") OPCSyncRead</span><span class="t s" style="left:389px;top:176.00px;font-size:10.6px;color:#7a7a7a;opacity:1;">&nbsp;&nbsp;&nbsp;&nbsp;<b style="color:#222">线程</b> 'vshost.exe'AutoStoreroom.opc\WCS\OPCForm_Main.cs: (1384, 26): <b style="color:#333">OPCSyncRead</b> = dpc:Info("autoRefresh")  Value True/Info("autoRefresh") OPCSyncRead</span><span class="t s" style="left:389px;top:179.30px;font-size:10.6px;color:#7a7a7a;opacity:0.75;">&nbsp;&nbsp;&nbsp;&nbsp;<b style="color:#222">线程</b> 'vshost.exe'AutoStoreroom.opc\WCS\OPCForm_Main.cs: (1401, 26): <b style="color:#333">OPCSyncRead</b> = dpc:Info("autoRefresh")  Value True/Info("autoRefresh") OPCSyncRead</span><span class="t s" style="left:389px;top:182.60px;font-size:10.6px;color:#7a7a7a;opacity:0.45;">&nbsp;&nbsp;&nbsp;&nbsp;<b style="color:#222">线程</b> 'vshost.exe'AutoStoreroom.opc\WCS\OPCForm_Main.cs: (1418, 26): <b style="color:#333">OPCSyncRead</b> = dpc:Info("autoRefresh")  Value True/Info("autoRefresh") OPCSyncRead</span><span class="t s" style="left:389px;top:185.90px;font-size:10.6px;color:#7a7a7a;opacity:0.2;">&nbsp;&nbsp;&nbsp;&nbsp;<b style="color:#222">线程</b> 'vshost.exe'AutoStoreroom.opc\WCS\OPCForm_Main.cs: (1435, 26): <b style="color:#333">OPCSyncRead</b> = dpc:Info("autoRefresh")  Value True/Info("autoRefresh") OPCSyncRead</span><div style="left:537.00px;top:78.00px;width:13.00px;height:114.00px;background:linear-gradient(90deg,rgba(255,255,255,0),#fff 85%);"></div><div style="left:386.00px;top:144.00px;width:8.00px;height:48.00px;background:linear-gradient(90deg,#fff 20%,rgba(255,255,255,0));"></div></div>
<div class="layer" style="filter:blur(0.45px)"><span class="t s" style="left:60.00px;top:231.00px;font-size:10.40px;color:#e2e5f4;">仓库监控 &nbsp; 巷道状态 &nbsp; 堆垛机状态 &nbsp; 输送线状态</span><span class="t s" style="left:54.00px;top:235.20px;font-size:9.60px;color:#ddd;">巷道</span><span class="t s" style="left:60.70px;top:235.20px;font-size:11.20px;color:#3a3ac0;font-weight:bold;">1道</span><span class="t s" style="left:54.00px;top:238.60px;font-size:9.60px;color:#ddd;">巷道</span><span class="t s" style="left:60.70px;top:238.60px;font-size:11.20px;color:#3a3ac0;font-weight:bold;">1道</span><span class="t s" style="left:54.00px;top:242.30px;font-size:9.60px;color:#ddd;">巷道</span><span class="t s" style="left:59.50px;top:242.30px;font-size:11.20px;color:#3a3ac0;font-weight:bold;">1道</span><svg style="position:absolute;left:77px;top:234px" width="57" height="72" viewBox="77 234 57 72"><g stroke="#cfcfcf" stroke-width=".55" fill="none"><path d="M78.00 235V305"/><path d="M81.47 235V305"/><path d="M84.94 235V305"/><path d="M88.41 235V305"/><path d="M91.88 235V305"/><path d="M95.35 235V305"/><path d="M98.82 235V305"/><path d="M102.29 235V305"/><path d="M105.76 235V305"/><path d="M109.23 235V305"/><path d="M112.70 235V305"/><path d="M116.17 235V305"/><path d="M119.64 235V305"/><path d="M123.11 235V305"/><path d="M126.58 235V305"/><path d="M130.05 235V305"/><path d="M133.52 235V305"/><path d="M78 235.00H132.5"/><path d="M78 238.00H132.5"/><path d="M78 241.00H132.5"/><path d="M78 244.00H132.5"/><path d="M78 247.00H132.5"/><path d="M78 250.00H132.5"/><path d="M78 253.00H132.5"/><path d="M78 256.00H132.5"/><path d="M78 259.00H132.5"/><path d="M78 262.00H132.5"/><path d="M78 265.00H132.5"/><path d="M78 268.00H132.5"/><path d="M78 271.00H132.5"/><path d="M78 274.00H132.5"/><path d="M78 277.00H132.5"/><path d="M78 280.00H132.5"/><path d="M78 283.00H132.5"/><path d="M78 286.00H132.5"/><path d="M78 289.00H132.5"/><path d="M78 292.00H132.5"/><path d="M78 295.00H132.5"/><path d="M78 298.00H132.5"/><path d="M78 301.00H132.5"/><path d="M78 304.00H132.5"/></g></svg><div style="left:74.70px;top:249.70px;width:2.60px;height:52.00px;background:repeating-linear-gradient(#b4e6a0 0 2px,#a4e0e6 2px 3px);"></div><div style="left:78.00px;top:257.00px;width:54.50px;height:4.00px;background:linear-gradient(#f3dc9c,#e5bb55 35%,#e5bb55 65%,#f3dc9c);"></div><div style="left:78.00px;top:290.30px;width:54.50px;height:4.00px;background:linear-gradient(#f3dc9c,#e5bb55 35%,#e5bb55 65%,#f3dc9c);"></div><div style="left:72.40px;top:256.00px;width:5.60px;height:5.90px;background:#86dcf2;border:1px solid #0e2240;border-radius:.8px;"></div><div style="left:72.40px;top:289.30px;width:5.60px;height:5.90px;background:#86dcf2;border:1px solid #0e2240;border-radius:.8px;"></div><div style="left:74.40px;top:241.30px;width:3.30px;height:1.80px;background:#c23cc0;border-radius:.5px;"></div><div style="left:72.70px;top:244.70px;width:5.00px;height:3.30px;background:#a80a14;border:.7px solid #3a0508;border-radius:.6px;"></div><div style="left:66.00px;top:273.00px;width:11.30px;height:3.80px;background:#8f90d2;border-radius:.6px;overflow:hidden;"><span class="t s" style="left:1.40px;top:0.50px;font-size:10.40px;color:#fff;">出入库</span></div><div style="left:70.00px;top:282.00px;width:4.00px;height:2.30px;background:#7c2410;border-radius:1px;"></div><div style="left:69.70px;top:285.70px;width:4.30px;height:3.30px;background:#33341a;border-radius:.4px;"></div><span class="t s" style="left:57.50px;top:254.50px;font-size:28.00px;color:#ececec;">1道</span><span class="t s" style="left:57.50px;top:288.00px;font-size:28.00px;color:#eeeeee;">1道</span><span class="t s" style="left:54.00px;top:303.00px;font-size:9.60px;color:#ccc;">显示巷道</span><div style="left:65.30px;top:303.00px;width:4.40px;height:2.00px;background:#6472d2;border-radius:.4px;"></div><span class="t s" style="left:134.00px;top:232.90px;font-size:10.80px;color:#333;">□ 1号堆垛机状态信息</span><span class="t s" style="left:130.00px;width:86.00px;top:236.70px;font-size:11.2px;color:#111;text-align:right">当前任务号:</span><span class="t s" style="left:152.70px;top:236.90px;font-size:11.20px;color:#2f9a3a;font-weight:bold;">待机</span><span class="t s" style="left:130.00px;width:86.00px;top:240.40px;font-size:11.2px;color:#111;text-align:right">设备状态:</span><span class="t s" style="left:152.70px;top:240.60px;font-size:11.20px;color:#2f9a3a;font-weight:bold;">自动联机</span><span class="t s" style="left:130.00px;width:86.00px;top:244.10px;font-size:11.2px;color:#111;text-align:right">当前列:</span><span class="t s" style="left:152.70px;top:244.30px;font-size:11.20px;color:#2f9a3a;font-weight:bold;">108718</span><span class="t s" style="left:130.00px;width:86.00px;top:247.40px;font-size:11.2px;color:#111;text-align:right">当前层数:</span><span class="t s" style="left:152.70px;top:247.60px;font-size:11.20px;color:#2f9a3a;font-weight:bold;">10871</span><span class="t s" style="left:130.00px;width:86.00px;top:250.90px;font-size:11.2px;color:#111;text-align:right">当前排:</span><span class="t s" style="left:152.70px;top:251.10px;font-size:11.20px;color:#2f9a3a;font-weight:bold;">联机完成</span><span class="t s" style="left:134.00px;top:256.20px;font-size:10.80px;color:#333;">□ 1号堆垛机状态信息</span><span class="t s" style="left:130.00px;width:86.00px;top:259.70px;font-size:11.2px;color:#111;text-align:right">当前任务号:</span><span class="t s" style="left:152.70px;top:259.90px;font-size:11.20px;color:#2f9a3a;font-weight:bold;">自动联机</span><span class="t s" style="left:130.00px;width:86.00px;top:263.10px;font-size:11.2px;color:#111;text-align:right">设备状态:</span><span class="t s" style="left:152.70px;top:263.30px;font-size:11.20px;color:#2f9a3a;font-weight:bold;">108718</span><span class="t s" style="left:130.00px;width:86.00px;top:266.40px;font-size:11.2px;color:#111;text-align:right">当前列:</span><span class="t s" style="left:152.70px;top:266.60px;font-size:11.20px;color:#2f9a3a;font-weight:bold;">10871</span><span class="t s" style="left:130.00px;width:86.00px;top:269.90px;font-size:11.2px;color:#111;text-align:right">当前层数:</span><span class="t s" style="left:152.70px;top:270.10px;font-size:11.20px;color:#2f9a3a;font-weight:bold;">联机完成</span><span class="t s" style="left:130.00px;width:86.00px;top:273.30px;font-size:11.2px;color:#111;text-align:right">当前排:</span><span class="t s" style="left:152.70px;top:273.50px;font-size:11.20px;color:#2f9a3a;font-weight:bold;">正常</span><span class="t s" style="left:134.00px;top:277.40px;font-size:10.80px;color:#333;">□ 1号堆垛机状态信息</span><span class="t s" style="left:130.00px;width:86.00px;top:281.20px;font-size:11.2px;color:#111;text-align:right">当前任务号:</span><span class="t s" style="left:152.70px;top:281.40px;font-size:11.20px;color:#2f9a3a;font-weight:bold;">108718</span><span class="t s" style="left:130.00px;width:86.00px;top:284.60px;font-size:11.2px;color:#111;text-align:right">设备状态:</span><span class="t s" style="left:152.70px;top:284.80px;font-size:11.20px;color:#2f9a3a;font-weight:bold;">10871</span><span class="t s" style="left:130.00px;width:86.00px;top:288.00px;font-size:11.2px;color:#111;text-align:right">当前列:</span><span class="t s" style="left:152.70px;top:288.20px;font-size:11.20px;color:#2f9a3a;font-weight:bold;">联机完成</span><span class="t s" style="left:130.00px;width:86.00px;top:291.40px;font-size:11.2px;color:#111;text-align:right">当前层数:</span><span class="t s" style="left:152.70px;top:291.60px;font-size:11.20px;color:#2f9a3a;font-weight:bold;">正常</span><span class="t s" style="left:130.00px;width:86.00px;top:294.80px;font-size:11.2px;color:#111;text-align:right">当前排:</span><span class="t s" style="left:152.70px;top:295.00px;font-size:11.20px;color:#2f9a3a;font-weight:bold;">在原位</span><span class="t s" style="left:130.00px;width:86.00px;top:297.90px;font-size:11.2px;color:#111;text-align:right">任务类型:</span><span class="t s" style="left:152.70px;top:298.10px;font-size:11.20px;color:#2f9a3a;font-weight:bold;">待机</span><span class="t s" style="left:130.00px;width:86.00px;top:301.00px;font-size:11.2px;color:#111;text-align:right">货叉状态:</span><span class="t s" style="left:152.70px;top:301.20px;font-size:11.20px;color:#2f9a3a;font-weight:bold;">自动联机</span><span class="t s" style="left:158.00px;width:88.00px;top:236.70px;font-size:11.2px;color:#111;text-align:right">设备状态:</span><span class="t s" style="left:181.80px;top:236.90px;font-size:11.20px;color:#2f9a3a;font-weight:bold;">自动联机</span><span class="t s" style="left:158.00px;width:88.00px;top:240.40px;font-size:11.2px;color:#111;text-align:right">当前列:</span><span class="t s" style="left:181.80px;top:240.60px;font-size:11.20px;color:#2f9a3a;font-weight:bold;">108718</span><span class="t s" style="left:158.00px;width:88.00px;top:244.10px;font-size:11.2px;color:#111;text-align:right">当前层数:</span><span class="t s" style="left:181.80px;top:244.30px;font-size:11.20px;color:#2f9a3a;font-weight:bold;">10871</span><span class="t s" style="left:158.00px;width:88.00px;top:247.40px;font-size:11.2px;color:#111;text-align:right">当前排:</span><span class="t s" style="left:181.80px;top:247.60px;font-size:11.20px;color:#2f9a3a;font-weight:bold;">联机完成</span><span class="t s" style="left:158.00px;width:88.00px;top:250.90px;font-size:11.2px;color:#111;text-align:right">任务类型:</span><span class="t s" style="left:181.80px;top:251.10px;font-size:11.20px;color:#2f9a3a;font-weight:bold;">正常</span><span class="t s" style="left:158.00px;width:88.00px;top:259.70px;font-size:11.2px;color:#111;text-align:right">设备状态:</span><span class="t s" style="left:181.80px;top:259.90px;font-size:11.20px;color:#2f9a3a;font-weight:bold;">108718</span><span class="t s" style="left:158.00px;width:88.00px;top:263.10px;font-size:11.2px;color:#111;text-align:right">当前列:</span><span class="t s" style="left:181.80px;top:263.30px;font-size:11.20px;color:#2f9a3a;font-weight:bold;">10871</span><span class="t s" style="left:158.00px;width:88.00px;top:266.40px;font-size:11.2px;color:#111;text-align:right">当前层数:</span><span class="t s" style="left:181.80px;top:266.60px;font-size:11.20px;color:#2f9a3a;font-weight:bold;">联机完成</span><span class="t s" style="left:158.00px;width:88.00px;top:269.90px;font-size:11.2px;color:#111;text-align:right">当前排:</span><span class="t s" style="left:181.80px;top:270.10px;font-size:11.20px;color:#2f9a3a;font-weight:bold;">正常</span><span class="t s" style="left:158.00px;width:88.00px;top:273.30px;font-size:11.2px;color:#111;text-align:right">任务类型:</span><span class="t s" style="left:181.80px;top:273.50px;font-size:11.20px;color:#2f9a3a;font-weight:bold;">在原位</span><span class="t s" style="left:158.00px;width:88.00px;top:281.20px;font-size:11.2px;color:#111;text-align:right">设备状态:</span><span class="t s" style="left:181.80px;top:281.40px;font-size:11.20px;color:#2f9a3a;font-weight:bold;">10871</span><span class="t s" style="left:158.00px;width:88.00px;top:284.60px;font-size:11.2px;color:#111;text-align:right">当前列:</span><span class="t s" style="left:181.80px;top:284.80px;font-size:11.20px;color:#2f9a3a;font-weight:bold;">联机完成</span><span class="t s" style="left:158.00px;width:88.00px;top:288.00px;font-size:11.2px;color:#111;text-align:right">当前层数:</span><span class="t s" style="left:181.80px;top:288.20px;font-size:11.20px;color:#2f9a3a;font-weight:bold;">正常</span><span class="t s" style="left:158.00px;width:88.00px;top:291.40px;font-size:11.2px;color:#111;text-align:right">当前排:</span><span class="t s" style="left:181.80px;top:291.60px;font-size:11.20px;color:#2f9a3a;font-weight:bold;">在原位</span><span class="t s" style="left:158.00px;width:88.00px;top:294.80px;font-size:11.2px;color:#111;text-align:right">任务类型:</span><span class="t s" style="left:181.80px;top:295.00px;font-size:11.20px;color:#2f9a3a;font-weight:bold;">待机</span><span class="t s" style="left:198.80px;top:232.90px;font-size:10.80px;color:#333;">□ 1号堆垛机状态信息</span><span class="t s" style="left:194.80px;width:82.80px;top:236.70px;font-size:11.2px;color:#111;text-align:right">当前列:</span><span class="t s" style="left:216.40px;top:236.90px;font-size:11.20px;color:#2f9a3a;font-weight:bold;">108718</span><span class="t s" style="left:194.80px;width:82.80px;top:240.40px;font-size:11.2px;color:#111;text-align:right">当前层数:</span><span class="t s" style="left:216.40px;top:240.60px;font-size:11.20px;color:#2f9a3a;font-weight:bold;">10871</span><span class="t s" style="left:194.80px;width:82.80px;top:244.10px;font-size:11.2px;color:#111;text-align:right">当前排:</span><span class="t s" style="left:216.40px;top:244.30px;font-size:11.20px;color:#2f9a3a;font-weight:bold;">联机完成</span><span class="t s" style="left:194.80px;width:82.80px;top:247.40px;font-size:11.2px;color:#111;text-align:right">任务类型:</span><span class="t s" style="left:216.40px;top:247.60px;font-size:11.20px;color:#2f9a3a;font-weight:bold;">正常</span><span class="t s" style="left:194.80px;width:82.80px;top:250.90px;font-size:11.2px;color:#111;text-align:right">货叉状态:</span><span class="t s" style="left:216.40px;top:251.10px;font-size:11.20px;color:#2f9a3a;font-weight:bold;">在原位</span><span class="t s" style="left:198.80px;top:256.20px;font-size:10.80px;color:#333;">□ 1号堆垛机状态信息</span><span class="t s" style="left:194.80px;width:82.80px;top:259.70px;font-size:11.2px;color:#111;text-align:right">当前列:</span><span class="t s" style="left:216.40px;top:259.90px;font-size:11.20px;color:#2f9a3a;font-weight:bold;">10871</span><span class="t s" style="left:194.80px;width:82.80px;top:263.10px;font-size:11.2px;color:#111;text-align:right">当前层数:</span><span class="t s" style="left:216.40px;top:263.30px;font-size:11.20px;color:#2f9a3a;font-weight:bold;">联机完成</span><span class="t s" style="left:194.80px;width:82.80px;top:266.40px;font-size:11.2px;color:#111;text-align:right">当前排:</span><span class="t s" style="left:216.40px;top:266.60px;font-size:11.20px;color:#2f9a3a;font-weight:bold;">正常</span><span class="t s" style="left:194.80px;width:82.80px;top:269.90px;font-size:11.2px;color:#111;text-align:right">任务类型:</span><span class="t s" style="left:216.40px;top:270.10px;font-size:11.20px;color:#2f9a3a;font-weight:bold;">在原位</span><span class="t s" style="left:194.80px;width:82.80px;top:273.30px;font-size:11.2px;color:#111;text-align:right">货叉状态:</span><span class="t s" style="left:216.40px;top:273.50px;font-size:11.20px;color:#2f9a3a;font-weight:bold;">待机</span><span class="t s" style="left:198.80px;top:277.40px;font-size:10.80px;color:#333;">□ 1号堆垛机状态信息</span><span class="t s" style="left:194.80px;width:82.80px;top:281.20px;font-size:11.2px;color:#111;text-align:right">当前列:</span><span class="t s" style="left:216.40px;top:281.40px;font-size:11.20px;color:#2f9a3a;font-weight:bold;">联机完成</span><span class="t s" style="left:194.80px;width:82.80px;top:284.60px;font-size:11.2px;color:#111;text-align:right">当前层数:</span><span class="t s" style="left:216.40px;top:284.80px;font-size:11.20px;color:#2f9a3a;font-weight:bold;">正常</span><span class="t s" style="left:194.80px;width:82.80px;top:288.00px;font-size:11.2px;color:#111;text-align:right">当前排:</span><span class="t s" style="left:216.40px;top:288.20px;font-size:11.20px;color:#2f9a3a;font-weight:bold;">在原位</span><span class="t s" style="left:194.80px;width:82.80px;top:291.40px;font-size:11.2px;color:#111;text-align:right">任务类型:</span><span class="t s" style="left:216.40px;top:291.60px;font-size:11.20px;color:#2f9a3a;font-weight:bold;">待机</span><span class="t s" style="left:194.80px;width:82.80px;top:294.80px;font-size:11.2px;color:#111;text-align:right">货叉状态:</span><span class="t s" style="left:216.40px;top:295.00px;font-size:11.20px;color:#2f9a3a;font-weight:bold;">自动联机</span><span class="t s" style="left:194.80px;width:82.80px;top:297.90px;font-size:11.2px;color:#111;text-align:right">当前任务号:</span><span class="t s" style="left:216.40px;top:298.10px;font-size:11.20px;color:#2f9a3a;font-weight:bold;">108718</span><span class="t s" style="left:194.80px;width:82.80px;top:301.00px;font-size:11.2px;color:#111;text-align:right">设备状态:</span><span class="t s" style="left:216.40px;top:301.20px;font-size:11.20px;color:#2f9a3a;font-weight:bold;">10871</span><span class="t s" style="left:223.00px;width:82.00px;top:236.70px;font-size:11.2px;color:#111;text-align:right">当前层数:</span><span class="t s" style="left:245.60px;top:236.90px;font-size:11.20px;color:#2f9a3a;font-weight:bold;">10871</span><span class="t s" style="left:223.00px;width:82.00px;top:240.40px;font-size:11.2px;color:#111;text-align:right">当前排:</span><span class="t s" style="left:245.60px;top:240.60px;font-size:11.20px;color:#2f9a3a;font-weight:bold;">联机完成</span><span class="t s" style="left:223.00px;width:82.00px;top:244.10px;font-size:11.2px;color:#111;text-align:right">任务类型:</span><span class="t s" style="left:245.60px;top:244.30px;font-size:11.20px;color:#2f9a3a;font-weight:bold;">正常</span><span class="t s" style="left:223.00px;width:82.00px;top:247.40px;font-size:11.2px;color:#111;text-align:right">货叉状态:</span><span class="t s" style="left:245.60px;top:247.60px;font-size:11.20px;color:#2f9a3a;font-weight:bold;">在原位</span><span class="t s" style="left:223.00px;width:82.00px;top:250.90px;font-size:11.2px;color:#111;text-align:right">当前任务号:</span><span class="t s" style="left:245.60px;top:251.10px;font-size:11.20px;color:#2f9a3a;font-weight:bold;">待机</span><span class="t s" style="left:223.00px;width:82.00px;top:259.70px;font-size:11.2px;color:#111;text-align:right">当前层数:</span><span class="t s" style="left:245.60px;top:259.90px;font-size:11.20px;color:#2f9a3a;font-weight:bold;">联机完成</span><span class="t s" style="left:223.00px;width:82.00px;top:263.10px;font-size:11.2px;color:#111;text-align:right">当前排:</span><span class="t s" style="left:245.60px;top:263.30px;font-size:11.20px;color:#2f9a3a;font-weight:bold;">正常</span><span class="t s" style="left:223.00px;width:82.00px;top:266.40px;font-size:11.2px;color:#111;text-align:right">任务类型:</span><span class="t s" style="left:245.60px;top:266.60px;font-size:11.20px;color:#2f9a3a;font-weight:bold;">在原位</span><span class="t s" style="left:223.00px;width:82.00px;top:269.90px;font-size:11.2px;color:#111;text-align:right">货叉状态:</span><span class="t s" style="left:245.60px;top:270.10px;font-size:11.20px;color:#2f9a3a;font-weight:bold;">待机</span><span class="t s" style="left:223.00px;width:82.00px;top:273.30px;font-size:11.2px;color:#111;text-align:right">当前任务号:</span><span class="t s" style="left:245.60px;top:273.50px;font-size:11.20px;color:#2f9a3a;font-weight:bold;">自动联机</span><span class="t s" style="left:223.00px;width:82.00px;top:281.20px;font-size:11.2px;color:#111;text-align:right">当前层数:</span><span class="t s" style="left:245.60px;top:281.40px;font-size:11.20px;color:#2f9a3a;font-weight:bold;">正常</span><span class="t s" style="left:223.00px;width:82.00px;top:284.60px;font-size:11.2px;color:#111;text-align:right">当前排:</span><span class="t s" style="left:245.60px;top:284.80px;font-size:11.20px;color:#2f9a3a;font-weight:bold;">在原位</span><span class="t s" style="left:223.00px;width:82.00px;top:288.00px;font-size:11.2px;color:#111;text-align:right">任务类型:</span><span class="t s" style="left:245.60px;top:288.20px;font-size:11.20px;color:#2f9a3a;font-weight:bold;">待机</span><span class="t s" style="left:223.00px;width:82.00px;top:291.40px;font-size:11.2px;color:#111;text-align:right">货叉状态:</span><span class="t s" style="left:245.60px;top:291.60px;font-size:11.20px;color:#2f9a3a;font-weight:bold;">自动联机</span><span class="t s" style="left:223.00px;width:82.00px;top:294.80px;font-size:11.2px;color:#111;text-align:right">当前任务号:</span><span class="t s" style="left:245.60px;top:295.00px;font-size:11.20px;color:#2f9a3a;font-weight:bold;">108718</span><span class="t s" style="left:259.00px;top:232.90px;font-size:10.80px;color:#333;">□ 1号堆垛机状态信息</span><span class="t s" style="left:255.00px;width:90.00px;top:236.70px;font-size:11.2px;color:#111;text-align:right">当前排:</span><span class="t s" style="left:278.70px;top:236.90px;font-size:11.20px;color:#2f9a3a;font-weight:bold;">联机完成</span><span class="t s" style="left:255.00px;width:90.00px;top:240.40px;font-size:11.2px;color:#111;text-align:right">任务类型:</span><span class="t s" style="left:278.70px;top:240.60px;font-size:11.20px;color:#2f9a3a;font-weight:bold;">正常</span><span class="t s" style="left:255.00px;width:90.00px;top:244.10px;font-size:11.2px;color:#111;text-align:right">货叉状态:</span><span class="t s" style="left:278.70px;top:244.30px;font-size:11.20px;color:#2f9a3a;font-weight:bold;">在原位</span><span class="t s" style="left:255.00px;width:90.00px;top:247.40px;font-size:11.2px;color:#111;text-align:right">当前任务号:</span><span class="t s" style="left:278.70px;top:247.60px;font-size:11.20px;color:#2f9a3a;font-weight:bold;">待机</span><span class="t s" style="left:255.00px;width:90.00px;top:250.90px;font-size:11.2px;color:#111;text-align:right">设备状态:</span><span class="t s" style="left:278.70px;top:251.10px;font-size:11.20px;color:#2f9a3a;font-weight:bold;">自动联机</span><span class="t s" style="left:259.00px;top:256.20px;font-size:10.80px;color:#333;">□ 1号堆垛机状态信息</span><span class="t s" style="left:255.00px;width:90.00px;top:259.70px;font-size:11.2px;color:#111;text-align:right">当前排:</span><span class="t s" style="left:278.70px;top:259.90px;font-size:11.20px;color:#2f9a3a;font-weight:bold;">正常</span><span class="t s" style="left:255.00px;width:90.00px;top:263.10px;font-size:11.2px;color:#111;text-align:right">任务类型:</span><span class="t s" style="left:278.70px;top:263.30px;font-size:11.20px;color:#2f9a3a;font-weight:bold;">在原位</span><span class="t s" style="left:255.00px;width:90.00px;top:266.40px;font-size:11.2px;color:#111;text-align:right">货叉状态:</span><span class="t s" style="left:278.70px;top:266.60px;font-size:11.20px;color:#2f9a3a;font-weight:bold;">待机</span><span class="t s" style="left:255.00px;width:90.00px;top:269.90px;font-size:11.2px;color:#111;text-align:right">当前任务号:</span><span class="t s" style="left:278.70px;top:270.10px;font-size:11.20px;color:#2f9a3a;font-weight:bold;">自动联机</span><span class="t s" style="left:255.00px;width:90.00px;top:273.30px;font-size:11.2px;color:#111;text-align:right">设备状态:</span><span class="t s" style="left:278.70px;top:273.50px;font-size:11.20px;color:#2f9a3a;font-weight:bold;">108718</span><span class="t s" style="left:259.00px;top:277.40px;font-size:10.80px;color:#333;">□ 1号堆垛机状态信息</span><span class="t s" style="left:255.00px;width:90.00px;top:281.20px;font-size:11.2px;color:#111;text-align:right">当前排:</span><span class="t s" style="left:278.70px;top:281.40px;font-size:11.20px;color:#2f9a3a;font-weight:bold;">在原位</span><span class="t s" style="left:255.00px;width:90.00px;top:284.60px;font-size:11.2px;color:#111;text-align:right">任务类型:</span><span class="t s" style="left:278.70px;top:284.80px;font-size:11.20px;color:#2f9a3a;font-weight:bold;">待机</span><span class="t s" style="left:255.00px;width:90.00px;top:288.00px;font-size:11.2px;color:#111;text-align:right">货叉状态:</span><span class="t s" style="left:278.70px;top:288.20px;font-size:11.20px;color:#2f9a3a;font-weight:bold;">自动联机</span><span class="t s" style="left:255.00px;width:90.00px;top:291.40px;font-size:11.2px;color:#111;text-align:right">当前任务号:</span><span class="t s" style="left:278.70px;top:291.60px;font-size:11.20px;color:#2f9a3a;font-weight:bold;">108718</span><span class="t s" style="left:255.00px;width:90.00px;top:294.80px;font-size:11.2px;color:#111;text-align:right">设备状态:</span><span class="t s" style="left:278.70px;top:295.00px;font-size:11.20px;color:#2f9a3a;font-weight:bold;">10871</span><span class="t s" style="left:255.00px;width:90.00px;top:297.90px;font-size:11.2px;color:#111;text-align:right">当前列:</span><span class="t s" style="left:278.70px;top:298.10px;font-size:11.20px;color:#2f9a3a;font-weight:bold;">联机完成</span><span class="t s" style="left:255.00px;width:90.00px;top:301.00px;font-size:11.2px;color:#111;text-align:right">当前层数:</span><span class="t s" style="left:278.70px;top:301.20px;font-size:11.20px;color:#2f9a3a;font-weight:bold;">正常</span><div style="left:52.00px;top:306.80px;width:218.00px;height:6.20px;background:#fbfbfb;border-top:.5px solid #ccc;border-bottom:.5px solid #bbb;"></div><div style="left:71.00px;top:307.20px;width:0.50px;height:5.40px;background:#c8c8c8;"></div><span class="t s" style="left:72.00px;top:307.40px;font-size:10.40px;color:#111;font-weight:bold;">序号</span><span class="t s" style="left:72.00px;top:309.90px;font-size:10.40px;color:#111;font-weight:bold;">状</span><div style="left:76.00px;top:307.20px;width:0.50px;height:5.40px;background:#c8c8c8;"></div><span class="t s" style="left:77.00px;top:307.40px;font-size:10.40px;color:#111;font-weight:bold;">任务</span><span class="t s" style="left:77.00px;top:309.90px;font-size:10.40px;color:#111;font-weight:bold;">巷</span><div style="left:85.00px;top:307.20px;width:0.50px;height:5.40px;background:#c8c8c8;"></div><span class="t s" style="left:86.00px;top:307.40px;font-size:10.40px;color:#111;font-weight:bold;">任务</span><span class="t s" style="left:86.00px;top:309.90px;font-size:10.40px;color:#111;font-weight:bold;">起</span><div style="left:96.40px;top:307.20px;width:0.50px;height:5.40px;background:#c8c8c8;"></div><span class="t s" style="left:97.40px;top:307.40px;font-size:10.40px;color:#111;font-weight:bold;">状态</span><span class="t s" style="left:97.40px;top:309.90px;font-size:10.40px;color:#111;font-weight:bold;">目</span><div style="left:103.00px;top:307.20px;width:0.50px;height:5.40px;background:#c8c8c8;"></div><span class="t s" style="left:104.00px;top:307.40px;font-size:10.40px;color:#111;font-weight:bold;">巷道</span><span class="t s" style="left:104.00px;top:309.90px;font-size:10.40px;color:#111;font-weight:bold;">托</span><div style="left:112.00px;top:307.20px;width:0.50px;height:5.40px;background:#c8c8c8;"></div><span class="t s" style="left:113.00px;top:307.40px;font-size:10.40px;color:#111;font-weight:bold;">起始</span><span class="t s" style="left:113.00px;top:309.90px;font-size:10.40px;color:#111;font-weight:bold;">优</span><div style="left:120.00px;top:307.20px;width:0.50px;height:5.40px;background:#c8c8c8;"></div><span class="t s" style="left:121.00px;top:307.40px;font-size:10.40px;color:#111;font-weight:bold;">目标</span><span class="t s" style="left:121.00px;top:309.90px;font-size:10.40px;color:#111;font-weight:bold;">层</span><div style="left:129.00px;top:307.20px;width:0.50px;height:5.40px;background:#c8c8c8;"></div><span class="t s" style="left:130.00px;top:307.40px;font-size:10.40px;color:#111;font-weight:bold;">托盘</span><span class="t s" style="left:130.00px;top:309.90px;font-size:10.40px;color:#111;font-weight:bold;">列</span><div style="left:139.00px;top:307.20px;width:0.50px;height:5.40px;background:#c8c8c8;"></div><span class="t s" style="left:140.00px;top:307.40px;font-size:10.40px;color:#111;font-weight:bold;">优先</span><span class="t s" style="left:140.00px;top:309.90px;font-size:10.40px;color:#111;font-weight:bold;">排</span><div style="left:149.00px;top:307.20px;width:0.50px;height:5.40px;background:#c8c8c8;"></div><span class="t s" style="left:150.00px;top:307.40px;font-size:10.40px;color:#111;font-weight:bold;">层</span><span class="t s" style="left:150.00px;top:309.90px;font-size:10.40px;color:#111;font-weight:bold;">设</span><div style="left:159.00px;top:307.20px;width:0.50px;height:5.40px;background:#c8c8c8;"></div><span class="t s" style="left:160.00px;top:307.40px;font-size:10.40px;color:#111;font-weight:bold;">列</span><span class="t s" style="left:160.00px;top:309.90px;font-size:10.40px;color:#111;font-weight:bold;">创</span><div style="left:168.00px;top:307.20px;width:0.50px;height:5.40px;background:#c8c8c8;"></div><span class="t s" style="left:169.00px;top:307.40px;font-size:10.40px;color:#111;font-weight:bold;">排</span><span class="t s" style="left:169.00px;top:309.90px;font-size:10.40px;color:#111;font-weight:bold;">区</span><div style="left:179.70px;top:307.20px;width:0.50px;height:5.40px;background:#c8c8c8;"></div><span class="t s" style="left:180.70px;top:307.40px;font-size:10.40px;color:#111;font-weight:bold;">设备</span><span class="t s" style="left:180.70px;top:309.90px;font-size:10.40px;color:#111;font-weight:bold;">库</span><div style="left:191.70px;top:307.20px;width:0.50px;height:5.40px;background:#c8c8c8;"></div><span class="t s" style="left:192.70px;top:307.40px;font-size:10.40px;color:#111;font-weight:bold;">创建</span><span class="t s" style="left:192.70px;top:309.90px;font-size:10.40px;color:#111;font-weight:bold;">下</span><div style="left:198.00px;top:307.20px;width:0.50px;height:5.40px;background:#c8c8c8;"></div><span class="t s" style="left:199.00px;top:307.40px;font-size:10.40px;color:#111;font-weight:bold;">区</span><span class="t s" style="left:199.00px;top:309.90px;font-size:10.40px;color:#111;font-weight:bold;">完</span><div style="left:205.70px;top:307.20px;width:0.50px;height:5.40px;background:#c8c8c8;"></div><span class="t s" style="left:206.70px;top:307.40px;font-size:10.40px;color:#111;font-weight:bold;">库</span><span class="t s" style="left:206.70px;top:309.90px;font-size:10.40px;color:#111;font-weight:bold;">用</span><div style="left:212.00px;top:307.20px;width:0.50px;height:5.40px;background:#c8c8c8;"></div><span class="t s" style="left:213.00px;top:307.40px;font-size:10.40px;color:#111;font-weight:bold;">下发</span><span class="t s" style="left:213.00px;top:309.90px;font-size:10.40px;color:#111;font-weight:bold;">备</span><div style="left:234.00px;top:307.20px;width:0.50px;height:5.40px;background:#c8c8c8;"></div><span class="t s" style="left:235.00px;top:307.40px;font-size:10.40px;color:#111;font-weight:bold;">完成</span><span class="t s" style="left:235.00px;top:309.90px;font-size:10.40px;color:#111;font-weight:bold;">类</span><div style="left:241.50px;top:307.20px;width:0.50px;height:5.40px;background:#c8c8c8;"></div><span class="t s" style="left:242.50px;top:307.40px;font-size:10.40px;color:#111;font-weight:bold;">用户</span><span class="t s" style="left:242.50px;top:309.90px;font-size:10.40px;color:#111;font-weight:bold;">注</span><div style="left:250.00px;top:307.20px;width:0.50px;height:5.40px;background:#c8c8c8;"></div><span class="t s" style="left:251.00px;top:307.40px;font-size:10.40px;color:#111;font-weight:bold;">备</span><span class="t s" style="left:251.00px;top:309.90px;font-size:10.40px;color:#111;font-weight:bold;">序</span><div style="left:256.70px;top:307.20px;width:0.50px;height:5.40px;background:#c8c8c8;"></div><span class="t s" style="left:257.70px;top:307.40px;font-size:10.40px;color:#111;font-weight:bold;">类</span><span class="t s" style="left:257.70px;top:309.90px;font-size:10.40px;color:#111;font-weight:bold;">任</span><div style="left:265.30px;top:307.20px;width:0.50px;height:5.40px;background:#c8c8c8;"></div><span class="t s" style="left:266.30px;top:307.40px;font-size:10.40px;color:#111;font-weight:bold;">注</span><span class="t s" style="left:266.30px;top:309.90px;font-size:10.40px;color:#111;font-weight:bold;">任</span><span class="t s" style="left:55.00px;top:308.80px;font-size:10.40px;color:#888;">任务号</span><div style="left:52.00px;top:313.30px;width:218.00px;height:5.00px;background:#2a86d6;"></div><div style="left:52.00px;top:318.30px;width:218.00px;height:4.50px;background:#d6edf3;opacity:1;border-bottom:.4px solid #dfe6ea;"></div><span class="t s" style="left:55.00px;top:319.20px;font-size:10.80px;color:#999;opacity:1;">2014061900</span><span class="t s" style="left:72.00px;top:319.20px;font-size:10.80px;color:#444;opacity:1;">1</span><span class="t s" style="left:77.00px;top:319.20px;font-size:10.80px;color:#444;opacity:1;">1</span><span class="t s" style="left:86.00px;top:319.20px;font-size:10.80px;color:#111;opacity:1;font-weight:bold;">出库入库</span><span class="t s" style="left:97.00px;top:319.20px;font-size:10.80px;color:#444;opacity:1;">1</span><span class="t s" style="left:104.00px;top:319.20px;font-size:10.80px;color:#444;opacity:1;">TR1475</span><span class="t s" style="left:113.00px;top:319.20px;font-size:10.80px;color:#444;opacity:1;">A1-002</span><span class="t s" style="left:130.00px;top:319.20px;font-size:10.80px;color:#444;opacity:1;">96</span><span class="t s" style="left:140.00px;top:319.20px;font-size:10.80px;color:#444;opacity:1;">1</span><span class="t s" style="left:150.00px;top:319.20px;font-size:10.80px;color:#444;opacity:1;">36</span><span class="t s" style="left:160.00px;top:319.20px;font-size:10.80px;color:#444;opacity:1;">2</span><span class="t s" style="left:169.00px;top:319.20px;font-size:10.80px;color:#444;opacity:1;">2</span><span class="t s" style="left:180.00px;top:319.20px;font-size:10.80px;color:#444;opacity:1;">0</span><span class="t s" style="left:199.00px;top:319.20px;font-size:10.80px;color:#444;opacity:1;">TA27</span><span class="t s" style="left:206.00px;top:319.20px;font-size:10.80px;color:#444;opacity:1;">2014/11/9 11:26</span><span class="t s" style="left:235.00px;top:319.20px;font-size:10.80px;color:#111;opacity:1;font-weight:bold;">996</span><span class="t s" style="left:242.00px;top:319.20px;font-size:10.80px;color:#444;opacity:1;">3</span><span class="t s" style="left:257.00px;top:319.20px;font-size:10.80px;color:#444;opacity:1;">7011</span><span class="t s" style="left:266.00px;top:319.20px;font-size:10.80px;color:#111;opacity:1;font-weight:bold;">001</span><div style="left:52.00px;top:322.80px;width:218.00px;height:4.50px;background:#ffffff;opacity:1;border-bottom:.4px solid #dfe6ea;"></div><span class="t s" style="left:55.00px;top:323.70px;font-size:10.80px;color:#999;opacity:1;">2014061900</span><span class="t s" style="left:72.00px;top:323.70px;font-size:10.80px;color:#444;opacity:1;">1</span><span class="t s" style="left:77.00px;top:323.70px;font-size:10.80px;color:#444;opacity:1;">1</span><span class="t s" style="left:86.00px;top:323.70px;font-size:10.80px;color:#111;opacity:1;font-weight:bold;">出库入库</span><span class="t s" style="left:97.00px;top:323.70px;font-size:10.80px;color:#444;opacity:1;">1</span><span class="t s" style="left:104.00px;top:323.70px;font-size:10.80px;color:#444;opacity:1;">TR1475</span><span class="t s" style="left:113.00px;top:323.70px;font-size:10.80px;color:#444;opacity:1;">A1-002</span><span class="t s" style="left:130.00px;top:323.70px;font-size:10.80px;color:#444;opacity:1;">96</span><span class="t s" style="left:140.00px;top:323.70px;font-size:10.80px;color:#444;opacity:1;">1</span><span class="t s" style="left:150.00px;top:323.70px;font-size:10.80px;color:#444;opacity:1;">36</span><span class="t s" style="left:160.00px;top:323.70px;font-size:10.80px;color:#444;opacity:1;">2</span><span class="t s" style="left:169.00px;top:323.70px;font-size:10.80px;color:#444;opacity:1;">2</span><span class="t s" style="left:180.00px;top:323.70px;font-size:10.80px;color:#444;opacity:1;">0</span><span class="t s" style="left:199.00px;top:323.70px;font-size:10.80px;color:#444;opacity:1;">TA27</span><span class="t s" style="left:206.00px;top:323.70px;font-size:10.80px;color:#444;opacity:1;">2014/11/9 11:26</span><span class="t s" style="left:235.00px;top:323.70px;font-size:10.80px;color:#111;opacity:1;font-weight:bold;">996</span><span class="t s" style="left:242.00px;top:323.70px;font-size:10.80px;color:#444;opacity:1;">3</span><span class="t s" style="left:257.00px;top:323.70px;font-size:10.80px;color:#444;opacity:1;">7011</span><span class="t s" style="left:266.00px;top:323.70px;font-size:10.80px;color:#111;opacity:1;font-weight:bold;">001</span><div style="left:52.00px;top:327.30px;width:218.00px;height:4.50px;background:#d6edf3;opacity:1;border-bottom:.4px solid #dfe6ea;"></div><span class="t s" style="left:55.00px;top:328.20px;font-size:10.80px;color:#999;opacity:1;">2014061900</span><span class="t s" style="left:72.00px;top:328.20px;font-size:10.80px;color:#444;opacity:1;">1</span><span class="t s" style="left:77.00px;top:328.20px;font-size:10.80px;color:#444;opacity:1;">1</span><span class="t s" style="left:86.00px;top:328.20px;font-size:10.80px;color:#111;opacity:1;font-weight:bold;">出库入库</span><span class="t s" style="left:97.00px;top:328.20px;font-size:10.80px;color:#444;opacity:1;">1</span><span class="t s" style="left:104.00px;top:328.20px;font-size:10.80px;color:#444;opacity:1;">TR1475</span><span class="t s" style="left:113.00px;top:328.20px;font-size:10.80px;color:#444;opacity:1;">A1-002</span><span class="t s" style="left:130.00px;top:328.20px;font-size:10.80px;color:#444;opacity:1;">96</span><span class="t s" style="left:140.00px;top:328.20px;font-size:10.80px;color:#444;opacity:1;">1</span><span class="t s" style="left:150.00px;top:328.20px;font-size:10.80px;color:#444;opacity:1;">36</span><span class="t s" style="left:160.00px;top:328.20px;font-size:10.80px;color:#444;opacity:1;">2</span><span class="t s" style="left:169.00px;top:328.20px;font-size:10.80px;color:#444;opacity:1;">2</span><span class="t s" style="left:180.00px;top:328.20px;font-size:10.80px;color:#444;opacity:1;">0</span><span class="t s" style="left:199.00px;top:328.20px;font-size:10.80px;color:#444;opacity:1;">TA27</span><span class="t s" style="left:206.00px;top:328.20px;font-size:10.80px;color:#444;opacity:1;">2014/11/9 11:26</span><span class="t s" style="left:235.00px;top:328.20px;font-size:10.80px;color:#111;opacity:1;font-weight:bold;">996</span><span class="t s" style="left:242.00px;top:328.20px;font-size:10.80px;color:#444;opacity:1;">3</span><span class="t s" style="left:257.00px;top:328.20px;font-size:10.80px;color:#444;opacity:1;">7011</span><span class="t s" style="left:266.00px;top:328.20px;font-size:10.80px;color:#111;opacity:1;font-weight:bold;">001</span><div style="left:52.00px;top:331.80px;width:218.00px;height:4.50px;background:#ffffff;opacity:1;border-bottom:.4px solid #dfe6ea;"></div><span class="t s" style="left:55.00px;top:332.70px;font-size:10.80px;color:#999;opacity:1;">2014061900</span><span class="t s" style="left:72.00px;top:332.70px;font-size:10.80px;color:#444;opacity:1;">1</span><span class="t s" style="left:77.00px;top:332.70px;font-size:10.80px;color:#444;opacity:1;">1</span><span class="t s" style="left:86.00px;top:332.70px;font-size:10.80px;color:#111;opacity:1;font-weight:bold;">出库入库</span><span class="t s" style="left:97.00px;top:332.70px;font-size:10.80px;color:#444;opacity:1;">1</span><span class="t s" style="left:104.00px;top:332.70px;font-size:10.80px;color:#444;opacity:1;">TR1475</span><span class="t s" style="left:113.00px;top:332.70px;font-size:10.80px;color:#444;opacity:1;">A1-002</span><span class="t s" style="left:130.00px;top:332.70px;font-size:10.80px;color:#444;opacity:1;">96</span><span class="t s" style="left:140.00px;top:332.70px;font-size:10.80px;color:#444;opacity:1;">1</span><span class="t s" style="left:150.00px;top:332.70px;font-size:10.80px;color:#444;opacity:1;">36</span><span class="t s" style="left:160.00px;top:332.70px;font-size:10.80px;color:#444;opacity:1;">2</span><span class="t s" style="left:169.00px;top:332.70px;font-size:10.80px;color:#444;opacity:1;">2</span><span class="t s" style="left:180.00px;top:332.70px;font-size:10.80px;color:#444;opacity:1;">0</span><span class="t s" style="left:199.00px;top:332.70px;font-size:10.80px;color:#444;opacity:1;">TA27</span><span class="t s" style="left:206.00px;top:332.70px;font-size:10.80px;color:#444;opacity:1;">2014/11/9 11:26</span><span class="t s" style="left:235.00px;top:332.70px;font-size:10.80px;color:#111;opacity:1;font-weight:bold;">996</span><span class="t s" style="left:242.00px;top:332.70px;font-size:10.80px;color:#444;opacity:1;">3</span><span class="t s" style="left:257.00px;top:332.70px;font-size:10.80px;color:#444;opacity:1;">7011</span><span class="t s" style="left:266.00px;top:332.70px;font-size:10.80px;color:#111;opacity:1;font-weight:bold;">001</span><div style="left:52.00px;top:336.30px;width:218.00px;height:4.50px;background:#d6edf3;opacity:1;border-bottom:.4px solid #dfe6ea;"></div><span class="t s" style="left:55.00px;top:337.20px;font-size:10.80px;color:#999;opacity:1;">2014061900</span><span class="t s" style="left:72.00px;top:337.20px;font-size:10.80px;color:#444;opacity:1;">1</span><span class="t s" style="left:77.00px;top:337.20px;font-size:10.80px;color:#444;opacity:1;">1</span><span class="t s" style="left:86.00px;top:337.20px;font-size:10.80px;color:#111;opacity:1;font-weight:bold;">出库入库</span><span class="t s" style="left:97.00px;top:337.20px;font-size:10.80px;color:#444;opacity:1;">1</span><span class="t s" style="left:104.00px;top:337.20px;font-size:10.80px;color:#444;opacity:1;">TR1475</span><span class="t s" style="left:113.00px;top:337.20px;font-size:10.80px;color:#444;opacity:1;">A1-002</span><span class="t s" style="left:130.00px;top:337.20px;font-size:10.80px;color:#444;opacity:1;">96</span><span class="t s" style="left:140.00px;top:337.20px;font-size:10.80px;color:#444;opacity:1;">1</span><span class="t s" style="left:150.00px;top:337.20px;font-size:10.80px;color:#444;opacity:1;">36</span><span class="t s" style="left:160.00px;top:337.20px;font-size:10.80px;color:#444;opacity:1;">2</span><span class="t s" style="left:169.00px;top:337.20px;font-size:10.80px;color:#444;opacity:1;">2</span><span class="t s" style="left:180.00px;top:337.20px;font-size:10.80px;color:#444;opacity:1;">0</span><span class="t s" style="left:199.00px;top:337.20px;font-size:10.80px;color:#444;opacity:1;">TA27</span><span class="t s" style="left:206.00px;top:337.20px;font-size:10.80px;color:#444;opacity:1;">2014/11/9 11:26</span><span class="t s" style="left:235.00px;top:337.20px;font-size:10.80px;color:#111;opacity:1;font-weight:bold;">996</span><span class="t s" style="left:242.00px;top:337.20px;font-size:10.80px;color:#444;opacity:1;">3</span><span class="t s" style="left:257.00px;top:337.20px;font-size:10.80px;color:#444;opacity:1;">7011</span><span class="t s" style="left:266.00px;top:337.20px;font-size:10.80px;color:#111;opacity:1;font-weight:bold;">001</span><div style="left:52.00px;top:340.80px;width:218.00px;height:4.50px;background:#ffffff;opacity:0.85;border-bottom:.4px solid #dfe6ea;"></div><span class="t s" style="left:55.00px;top:341.70px;font-size:10.80px;color:#999;opacity:0.85;">2014061900</span><span class="t s" style="left:72.00px;top:341.70px;font-size:10.80px;color:#444;opacity:0.85;">1</span><span class="t s" style="left:77.00px;top:341.70px;font-size:10.80px;color:#444;opacity:0.85;">1</span><span class="t s" style="left:86.00px;top:341.70px;font-size:10.80px;color:#111;opacity:0.85;font-weight:bold;">出库入库</span><span class="t s" style="left:97.00px;top:341.70px;font-size:10.80px;color:#444;opacity:0.85;">1</span><span class="t s" style="left:104.00px;top:341.70px;font-size:10.80px;color:#444;opacity:0.85;">TR1475</span><span class="t s" style="left:113.00px;top:341.70px;font-size:10.80px;color:#444;opacity:0.85;">A1-002</span><span class="t s" style="left:130.00px;top:341.70px;font-size:10.80px;color:#444;opacity:0.85;">96</span><span class="t s" style="left:140.00px;top:341.70px;font-size:10.80px;color:#444;opacity:0.85;">1</span><span class="t s" style="left:150.00px;top:341.70px;font-size:10.80px;color:#444;opacity:0.85;">36</span><span class="t s" style="left:160.00px;top:341.70px;font-size:10.80px;color:#444;opacity:0.85;">2</span><span class="t s" style="left:169.00px;top:341.70px;font-size:10.80px;color:#444;opacity:0.85;">2</span><span class="t s" style="left:180.00px;top:341.70px;font-size:10.80px;color:#444;opacity:0.85;">0</span><span class="t s" style="left:199.00px;top:341.70px;font-size:10.80px;color:#444;opacity:0.85;">TA27</span><span class="t s" style="left:206.00px;top:341.70px;font-size:10.80px;color:#444;opacity:0.85;">2014/11/9 11:26</span><span class="t s" style="left:235.00px;top:341.70px;font-size:10.80px;color:#111;opacity:0.85;font-weight:bold;">996</span><span class="t s" style="left:242.00px;top:341.70px;font-size:10.80px;color:#444;opacity:0.85;">3</span><span class="t s" style="left:257.00px;top:341.70px;font-size:10.80px;color:#444;opacity:0.85;">7011</span><span class="t s" style="left:266.00px;top:341.70px;font-size:10.80px;color:#111;opacity:0.85;font-weight:bold;">001</span><div style="left:52.00px;top:345.30px;width:218.00px;height:4.50px;background:#d6edf3;opacity:0.6;border-bottom:.4px solid #dfe6ea;"></div><span class="t s" style="left:55.00px;top:346.20px;font-size:10.80px;color:#999;opacity:0.6;">2014061900</span><span class="t s" style="left:72.00px;top:346.20px;font-size:10.80px;color:#444;opacity:0.6;">1</span><span class="t s" style="left:77.00px;top:346.20px;font-size:10.80px;color:#444;opacity:0.6;">1</span><span class="t s" style="left:86.00px;top:346.20px;font-size:10.80px;color:#111;opacity:0.6;font-weight:bold;">出库入库</span><span class="t s" style="left:97.00px;top:346.20px;font-size:10.80px;color:#444;opacity:0.6;">1</span><span class="t s" style="left:104.00px;top:346.20px;font-size:10.80px;color:#444;opacity:0.6;">TR1475</span><span class="t s" style="left:113.00px;top:346.20px;font-size:10.80px;color:#444;opacity:0.6;">A1-002</span><span class="t s" style="left:130.00px;top:346.20px;font-size:10.80px;color:#444;opacity:0.6;">96</span><span class="t s" style="left:140.00px;top:346.20px;font-size:10.80px;color:#444;opacity:0.6;">1</span><span class="t s" style="left:150.00px;top:346.20px;font-size:10.80px;color:#444;opacity:0.6;">36</span><span class="t s" style="left:160.00px;top:346.20px;font-size:10.80px;color:#444;opacity:0.6;">2</span><span class="t s" style="left:169.00px;top:346.20px;font-size:10.80px;color:#444;opacity:0.6;">2</span><span class="t s" style="left:180.00px;top:346.20px;font-size:10.80px;color:#444;opacity:0.6;">0</span><span class="t s" style="left:199.00px;top:346.20px;font-size:10.80px;color:#444;opacity:0.6;">TA27</span><span class="t s" style="left:206.00px;top:346.20px;font-size:10.80px;color:#444;opacity:0.6;">2014/11/9 11:26</span><span class="t s" style="left:235.00px;top:346.20px;font-size:10.80px;color:#111;opacity:0.6;font-weight:bold;">996</span><span class="t s" style="left:242.00px;top:346.20px;font-size:10.80px;color:#444;opacity:0.6;">3</span><span class="t s" style="left:257.00px;top:346.20px;font-size:10.80px;color:#444;opacity:0.6;">7011</span><span class="t s" style="left:266.00px;top:346.20px;font-size:10.80px;color:#111;opacity:0.6;font-weight:bold;">001</span><div style="left:52.00px;top:349.80px;width:218.00px;height:4.50px;background:#ffffff;opacity:0.35;border-bottom:.4px solid #dfe6ea;"></div><span class="t s" style="left:55.00px;top:350.70px;font-size:10.80px;color:#999;opacity:0.35;">2014061900</span><span class="t s" style="left:72.00px;top:350.70px;font-size:10.80px;color:#444;opacity:0.35;">1</span><span class="t s" style="left:77.00px;top:350.70px;font-size:10.80px;color:#444;opacity:0.35;">1</span><span class="t s" style="left:86.00px;top:350.70px;font-size:10.80px;color:#111;opacity:0.35;font-weight:bold;">出库入库</span><span class="t s" style="left:97.00px;top:350.70px;font-size:10.80px;color:#444;opacity:0.35;">1</span><span class="t s" style="left:104.00px;top:350.70px;font-size:10.80px;color:#444;opacity:0.35;">TR1475</span><span class="t s" style="left:113.00px;top:350.70px;font-size:10.80px;color:#444;opacity:0.35;">A1-002</span><span class="t s" style="left:130.00px;top:350.70px;font-size:10.80px;color:#444;opacity:0.35;">96</span><span class="t s" style="left:140.00px;top:350.70px;font-size:10.80px;color:#444;opacity:0.35;">1</span><span class="t s" style="left:150.00px;top:350.70px;font-size:10.80px;color:#444;opacity:0.35;">36</span><span class="t s" style="left:160.00px;top:350.70px;font-size:10.80px;color:#444;opacity:0.35;">2</span><span class="t s" style="left:169.00px;top:350.70px;font-size:10.80px;color:#444;opacity:0.35;">2</span><span class="t s" style="left:180.00px;top:350.70px;font-size:10.80px;color:#444;opacity:0.35;">0</span><span class="t s" style="left:199.00px;top:350.70px;font-size:10.80px;color:#444;opacity:0.35;">TA27</span><span class="t s" style="left:206.00px;top:350.70px;font-size:10.80px;color:#444;opacity:0.35;">2014/11/9 11:26</span><span class="t s" style="left:235.00px;top:350.70px;font-size:10.80px;color:#111;opacity:0.35;font-weight:bold;">996</span><span class="t s" style="left:242.00px;top:350.70px;font-size:10.80px;color:#444;opacity:0.35;">3</span><span class="t s" style="left:257.00px;top:350.70px;font-size:10.80px;color:#444;opacity:0.35;">7011</span><span class="t s" style="left:266.00px;top:350.70px;font-size:10.80px;color:#111;opacity:0.35;font-weight:bold;">001</span><div style="left:52.00px;top:354.30px;width:218.00px;height:4.50px;background:#d6edf3;opacity:0.15;border-bottom:.4px solid #dfe6ea;"></div><span class="t s" style="left:55.00px;top:355.20px;font-size:10.80px;color:#999;opacity:0.15;">2014061900</span><span class="t s" style="left:72.00px;top:355.20px;font-size:10.80px;color:#444;opacity:0.15;">1</span><span class="t s" style="left:77.00px;top:355.20px;font-size:10.80px;color:#444;opacity:0.15;">1</span><span class="t s" style="left:86.00px;top:355.20px;font-size:10.80px;color:#111;opacity:0.15;font-weight:bold;">出库入库</span><span class="t s" style="left:97.00px;top:355.20px;font-size:10.80px;color:#444;opacity:0.15;">1</span><span class="t s" style="left:104.00px;top:355.20px;font-size:10.80px;color:#444;opacity:0.15;">TR1475</span><span class="t s" style="left:113.00px;top:355.20px;font-size:10.80px;color:#444;opacity:0.15;">A1-002</span><span class="t s" style="left:130.00px;top:355.20px;font-size:10.80px;color:#444;opacity:0.15;">96</span><span class="t s" style="left:140.00px;top:355.20px;font-size:10.80px;color:#444;opacity:0.15;">1</span><span class="t s" style="left:150.00px;top:355.20px;font-size:10.80px;color:#444;opacity:0.15;">36</span><span class="t s" style="left:160.00px;top:355.20px;font-size:10.80px;color:#444;opacity:0.15;">2</span><span class="t s" style="left:169.00px;top:355.20px;font-size:10.80px;color:#444;opacity:0.15;">2</span><span class="t s" style="left:180.00px;top:355.20px;font-size:10.80px;color:#444;opacity:0.15;">0</span><span class="t s" style="left:199.00px;top:355.20px;font-size:10.80px;color:#444;opacity:0.15;">TA27</span><span class="t s" style="left:206.00px;top:355.20px;font-size:10.80px;color:#444;opacity:0.15;">2014/11/9 11:26</span><span class="t s" style="left:235.00px;top:355.20px;font-size:10.80px;color:#111;opacity:0.15;font-weight:bold;">996</span><span class="t s" style="left:242.00px;top:355.20px;font-size:10.80px;color:#444;opacity:0.15;">3</span><span class="t s" style="left:257.00px;top:355.20px;font-size:10.80px;color:#444;opacity:0.15;">7011</span><span class="t s" style="left:266.00px;top:355.20px;font-size:10.80px;color:#111;opacity:0.15;font-weight:bold;">001</span><span class="t s" style="left:55.00px;top:314.40px;font-size:10.40px;color:#e8f2ff;">2014061900</span><span class="t s" style="left:72.00px;top:314.40px;font-size:10.40px;color:#e8f2ff;">1</span><span class="t s" style="left:77.00px;top:314.40px;font-size:10.40px;color:#e8f2ff;">1</span><span class="t s" style="left:86.00px;top:314.40px;font-size:10.40px;color:#e8f2ff;">出库入库</span><span class="t s" style="left:97.00px;top:314.40px;font-size:10.40px;color:#e8f2ff;">1</span><span class="t s" style="left:104.00px;top:314.40px;font-size:10.40px;color:#e8f2ff;">TR1475</span><span class="t s" style="left:113.00px;top:314.40px;font-size:10.40px;color:#e8f2ff;">A1-002</span><span class="t s" style="left:130.00px;top:314.40px;font-size:10.40px;color:#e8f2ff;">96</span><span class="t s" style="left:140.00px;top:314.40px;font-size:10.40px;color:#e8f2ff;">1</span><span class="t s" style="left:150.00px;top:314.40px;font-size:10.40px;color:#e8f2ff;">36</span><span class="t s" style="left:160.00px;top:314.40px;font-size:10.40px;color:#e8f2ff;">2</span><span class="t s" style="left:169.00px;top:314.40px;font-size:10.40px;color:#e8f2ff;">2</span><span class="t s" style="left:180.00px;top:314.40px;font-size:10.40px;color:#e8f2ff;">0</span><span class="t s" style="left:199.00px;top:314.40px;font-size:10.40px;color:#e8f2ff;">TA27</span><span class="t s" style="left:206.00px;top:314.40px;font-size:10.40px;color:#e8f2ff;">2014/11/9 11:26</span><span class="t s" style="left:235.00px;top:314.40px;font-size:10.40px;color:#e8f2ff;">996</span><span class="t s" style="left:242.00px;top:314.40px;font-size:10.40px;color:#e8f2ff;">3</span><span class="t s" style="left:257.00px;top:314.40px;font-size:10.40px;color:#e8f2ff;">7011</span><span class="t s" style="left:266.00px;top:314.40px;font-size:10.40px;color:#e8f2ff;">001</span><div style="left:270.00px;top:307.00px;width:2.30px;height:44.00px;background:linear-gradient(#c8ccd2,#e8eaee);"></div><div style="left:276.00px;top:304.00px;width:12.00px;height:3.40px;background:#f4f6f8;border:.5px solid #c5ccd6;border-radius:1px;"></div><div style="left:276.00px;top:310.00px;width:10.00px;height:3.40px;background:#f4f6f8;border:.5px solid #c5ccd6;border-radius:1px;"></div><div style="left:276.00px;top:318.00px;width:12.00px;height:3.40px;background:#f4f6f8;border:.5px solid #c5ccd6;border-radius:1px;"></div><div style="left:276.00px;top:326.00px;width:12.00px;height:3.40px;background:#f4f6f8;border:.5px solid #c5ccd6;border-radius:1px;"></div><div style="left:276.00px;top:338.00px;width:12.00px;height:3.40px;background:#f4f6f8;border:.5px solid #c5ccd6;border-radius:1px;"></div><div style="left:276.00px;top:344.00px;width:11.00px;height:3.40px;background:#f4f6f8;border:.5px solid #c5ccd6;border-radius:1px;"></div><div style="left:50.00px;top:305.00px;width:16.00px;height:50.00px;background:linear-gradient(90deg,#fff 15%,rgba(255,255,255,0));"></div><div style="left:50.00px;top:343.00px;width:245.00px;height:16.00px;background:linear-gradient(rgba(255,255,255,0),#fff 80%);"></div><div style="left:270.00px;top:228.00px;width:25.00px;height:128.00px;background:linear-gradient(90deg,rgba(255,255,255,0),#fff 85%);"></div></div>
<div class="layer" style="filter:blur(0.5px)"><div style="left:324.00px;top:227.00px;width:227.00px;height:129.00px;background:#dfecf7;"></div><div style="left:324.00px;top:227.00px;width:227.00px;height:129.00px;background:linear-gradient(90deg,rgba(255,255,255,0) 78%,rgba(255,255,255,.62) 100%);"></div><div style="left:324.00px;top:227.00px;width:227.00px;height:129.00px;background:radial-gradient(ellipse 60% 70% at 100% 0%,#fff 0%,rgba(255,255,255,.92) 40%,rgba(255,255,255,0) 100%);"></div><div style="left:324.00px;top:227.00px;width:227.00px;height:16.00px;background:linear-gradient(#fff 15%,rgba(255,255,255,0));"></div><div style="left:324.00px;top:227.00px;width:12.00px;height:129.00px;background:linear-gradient(90deg,#fff 25%,rgba(255,255,255,0));"></div><div style="left:324.00px;top:347.00px;width:227.00px;height:9.00px;background:linear-gradient(rgba(255,255,255,0),#fff 85%);"></div><svg style="position:absolute;left:500px;top:270px;filter:blur(1.2px)" width="60" height="90" viewBox="500 270 60 90"><path d="M551 286 Q546 325 522 356" fill="none" stroke="rgba(255,255,255,.9)" stroke-width="4"/></svg><svg style="position:absolute;left:320px;top:300px;filter:blur(1px)" width="80" height="62" viewBox="320 300 80 62"><polygon points="320,305 320,362 392,362" fill="rgba(255,255,255,.8)"/></svg><span class="t s" style="left:361.50px;top:233.20px;font-size:13.60px;color:#8a8a92;letter-spacing:.5px;">ERP系统</span><svg style="position:absolute;left:358px;top:236px" width="22" height="14" viewBox="358 236 22 14"><polygon points="370.2,237.6 377.6,237 378,247.6 370.6,248.2" fill="#d4dce8" stroke="#8c98b0" stroke-width=".5"/><path d="M372 239 L376.6 238.7 M372 240.6 L376.6 240.3 M372 242.2 L376.7 241.9 M372 243.8 L376.8 243.5" stroke="#7c9cc8" stroke-width=".5"/><polygon points="362.5,239 370.4,238.4 370.6,244.8 362.8,245.2" fill="#f6f8fc" stroke="#8890b0" stroke-width=".6"/><path d="M364 240.6 L369.4 240.2 M364 242 L369.4 241.7 M364 243.4 L369.4 243.2" stroke="#a8a0d8" stroke-width=".5"/><polygon points="361,245.6 370.4,245.2 369,248 359.4,248.2" fill="#aeb0d2"/></svg><div style="left:379.00px;top:243.00px;width:33.50px;height:2.40px;background:#0b4fb3;box-shadow:0 0 .8px .5px rgba(255,255,255,.85);"></div><div style="left:412.00px;top:241.70px;width:0;height:0;border-top:2.50px solid transparent;border-bottom:2.50px solid transparent;border-left:4.00px solid #0b4fb3;"></div><span class="t s" style="left:332.40px;top:245.30px;font-size:14.80px;color:#222;font-weight:bold;letter-spacing:.3px;">供应商</span><svg style="position:absolute;left:330px;top:248px" width="22" height="20" viewBox="330 248 22 20"><g stroke="#9a6420" stroke-width=".5" fill="#e4b474"><ellipse cx="335.6" cy="251.3" rx="2.1" ry="2.4"/><path d="M333.4 253.6 Q331.2 257 332.2 260.8 L338 261.2 Q339.4 257 337.4 253.6 Z"/><path d="M336.6 255.4 L341.2 257 L340.8 258.4 L336.2 257.4 Z"/><path d="M333 260.4 L340.6 260 Q342.6 262.4 341.6 266.4 L338.6 266.4 L338.6 263.4 L333.4 263.6 Z"/><path d="M334.2 263.6 L333.8 266.6 L337 266.8 L336.6 263.6 Z"/></g><polygon points="339.4,249.8 346.4,249.6 346.6,255.4 339.2,255.6" fill="#1c1c20"/><polygon points="340.4,250.6 345.6,250.4 345.7,254.2 340.4,254.4" fill="#22a8a4"/><rect x="338" y="255.8" width="10.8" height="1.3" fill="#3a3e48"/><polygon points="341.2,257.1 348.6,257.1 349.6,266.2 341.4,266.2" fill="#f2f4f7" stroke="#c0c6d0" stroke-width=".4"/></svg><div style="left:349.40px;top:256.70px;width:63.10px;height:2.40px;background:#0b4fb3;box-shadow:0 0 .8px .5px rgba(255,255,255,.85);"></div><div style="left:412.00px;top:255.40px;width:0;height:0;border-top:2.50px solid transparent;border-bottom:2.50px solid transparent;border-left:4.00px solid #0b4fb3;"></div><div style="left:331.60px;top:273.00px;width:32.40px;height:30.20px;background:#f1f090;"></div><svg style="position:absolute;left:331px;top:272px" width="36" height="28" viewBox="331 272 36 28"><polygon points="334.4,278.2 348.6,275.6 348.6,292 334.4,290.2" fill="#b4b9bf" stroke="#7a8088" stroke-width=".5"/><polygon points="348.6,275.6 351.5,276.4 351.5,281 348.6,281" fill="#8a9098"/><path d="M348.6 281 L351 280.2 L357.5 280.6 Q360.6 283 360.8 287 L360.8 293.4 L348.6 292.4 Z" fill="#eceef0" stroke="#8a9098" stroke-width=".5"/><path d="M351 281.6 L357.2 281.8 Q359.3 283.6 359.6 286.2 L351 286 Z" fill="#2a323c"/><rect x="349" y="290.4" width="12" height="2.8" rx=".6" fill="#30343a"/><rect x="336" y="290" width="13" height="2" fill="#3a3e44"/><ellipse cx="347" cy="293.4" rx="2.2" ry="2.7" fill="#17191c"/><ellipse cx="355.6" cy="294" rx="2" ry="2.4" fill="#17191c"/><ellipse cx="339" cy="292" rx="1.6" ry="2" fill="#22252a"/></svg><span class="t s" style="left:332.30px;top:298.00px;font-size:17.60px;color:#333;font-weight:bold;letter-spacing:.6px;">供应商送货</span><div style="left:366.00px;top:288.00px;width:6.30px;height:2.60px;background:#0b4fb3;box-shadow:0 0 .8px .5px rgba(255,255,255,.85);"></div><div style="left:371.80px;top:286.80px;width:0;height:0;border-top:2.50px solid transparent;border-bottom:2.50px solid transparent;border-left:3.60px solid #0b4fb3;"></div><div style="left:379.00px;top:273.60px;width:24.20px;height:30.10px;background:#f1f090;"></div><svg style="position:absolute;left:378px;top:272px" width="28" height="22" viewBox="378 272 28 22"><path d="M383.4 282 L383.4 275 L391.2 275 L391.2 283" fill="none" stroke="#d9ae10" stroke-width="1.3"/><path d="M383 276 L391.6 276" stroke="#e8c838" stroke-width="1"/><rect x="379.4" y="280.8" width="9.6" height="8" rx="2" fill="#d4222a"/><rect x="380" y="284" width="9" height="2" fill="#8c1218"/><rect x="386.6" y="279.6" width="2.6" height="5" rx="1" fill="#4838a8"/><circle cx="387.8" cy="278.8" r="1.1" fill="#e8b890"/><rect x="389" y="284" width="4.2" height="3.8" rx="1" fill="#f2c818"/><rect x="392.2" y="277" width="1.2" height="13" fill="#5a5a30"/><rect x="394.4" y="279.6" width="9.4" height="10.6" rx="1" fill="#35a838"/><polygon points="394.4,279.6 396.4,277.8 403.8,277.8 403.8,279.6" fill="#a0e088"/><rect x="394.4" y="288.8" width="9.4" height="1.6" fill="#c8b030"/><ellipse cx="382.6" cy="289.6" rx="2" ry="1.8" fill="#1c1c1c"/><ellipse cx="390.4" cy="289.8" rx="1.8" ry="1.6" fill="#1c1c1c"/></svg><span class="t s" style="left:386.60px;top:295.80px;font-size:17.60px;color:#333;font-weight:bold;letter-spacing:.4px;">卸 货</span><div style="left:405.00px;top:288.20px;width:7.90px;height:2.60px;background:#0b4fb3;box-shadow:0 0 .8px .5px rgba(255,255,255,.85);"></div><div style="left:412.40px;top:287.00px;width:0;height:0;border-top:2.50px solid transparent;border-bottom:2.50px solid transparent;border-left:3.60px solid #0b4fb3;"></div><svg style="position:absolute;left:417.3px;top:271.8px" width="21.3" height="31.0" viewBox="417.3 271.8 21.3 31.0"><defs><linearGradient id="bf418" x1="0" y1="0" x2="0" y2="1"><stop offset="0" stop-color="#e0901e"/><stop offset="1" stop-color="#cc7a10"/></linearGradient></defs><polygon points="418.3,275.0 435.0,275.0 435.0,301.8 418.3,301.8" fill="url(#bf418)"/><polygon points="418.3,275.0 420.9,272.8 437.6,272.8 435.0,275.0" fill="#f0b050"/><polygon points="435.0,275.0 437.6,272.8 437.6,299.6 435.0,301.8" fill="#a8640e"/></svg><span class="t s" style="left:420.30px;top:279.50px;font-size:15.20px;color:#3a1c00;font-weight:bold;letter-spacing:1.6px;">收货</span><span class="t s" style="left:420.30px;top:284.10px;font-size:15.20px;color:#3a1c00;font-weight:bold;letter-spacing:1.6px;">待检</span><span class="t s" style="left:420.30px;top:288.70px;font-size:15.20px;color:#3a1c00;font-weight:bold;letter-spacing:1.6px;">作业</span><span class="t s" style="left:424.00px;top:293.30px;font-size:15.20px;color:#3a1c00;font-weight:bold;letter-spacing:1.6px;">区</span><div style="left:440.00px;top:288.20px;width:7.20px;height:2.60px;background:#0b4fb3;box-shadow:0 0 .8px .5px rgba(255,255,255,.85);"></div><div style="left:446.70px;top:287.00px;width:0;height:0;border-top:2.50px solid transparent;border-bottom:2.50px solid transparent;border-left:3.60px solid #0b4fb3;"></div><div style="left:454.00px;top:272.80px;width:24.30px;height:30.60px;background:#f1f090;"></div><div style="left:457.50px;top:287.00px;width:7.60px;height:6.00px;background:#68ba52;border:.5px solid #96d67c;"></div><div style="left:472.30px;top:276.00px;width:1.60px;height:19.00px;border:.4px solid #d6d6b2;border-radius:.8px;"></div><div style="left:472.60px;top:293.00px;width:1.20px;height:2.00px;background:#d0d0aa;"></div><span class="t s" style="left:455.40px;top:298.00px;font-size:18.00px;color:#333;font-weight:bold;">检验 验货</span><div style="left:481.70px;top:288.20px;width:8.80px;height:2.60px;background:#0b4fb3;box-shadow:0 0 .8px .5px rgba(255,255,255,.85);"></div><div style="left:490.00px;top:287.00px;width:0;height:0;border-top:2.50px solid transparent;border-bottom:2.50px solid transparent;border-left:3.60px solid #0b4fb3;"></div><div style="left:500.00px;top:276.00px;width:27.60px;height:25.80px;background:#f1f090;"></div><div style="left:502.00px;top:278.20px;width:19.60px;height:10.80px;background:#fff;"></div><svg style="position:absolute;left:503.0px;top:279.0px" width="17.6" height="6.6" viewBox="503.0 279.0 17.6 6.6"><rect x="503.00" y="279.00" width="0.50" height="6.60" fill="#111"/><rect x="504.30" y="279.00" width="0.80" height="6.60" fill="#101030"/><rect x="505.60" y="279.00" width="1.00" height="6.60" fill="#101030"/><rect x="507.20" y="279.00" width="0.50" height="6.60" fill="#101030"/><rect x="508.20" y="279.00" width="0.50" height="6.60" fill="#101030"/><rect x="509.30" y="279.00" width="0.50" height="6.60" fill="#101030"/><rect x="510.60" y="279.00" width="0.80" height="6.60" fill="#1a1a1a"/><rect x="512.20" y="279.00" width="0.50" height="6.60" fill="#111"/><rect x="513.30" y="279.00" width="0.50" height="6.60" fill="#111"/><rect x="514.30" y="279.00" width="1.00" height="6.60" fill="#1a1a1a"/><rect x="516.10" y="279.00" width="1.00" height="6.60" fill="#111"/><rect x="517.90" y="279.00" width="0.50" height="6.60" fill="#101030"/><rect x="519.00" y="279.00" width="0.50" height="6.60" fill="#1a1a1a"/><rect x="520.10" y="279.00" width="0.50" height="6.60" fill="#301010"/></svg><span class="t s" style="left:507.00px;top:286.00px;font-size:8.80px;color:#333;">690123456</span><span class="t s" style="left:501.20px;top:293.40px;font-size:14.80px;color:#111;font-weight:bold;">打印/粘贴标签</span><div style="left:511.90px;top:303.00px;width:2.60px;height:7.10px;background:#0b4fb3;box-shadow:0 0 .8px .5px rgba(255,255,255,.85);"></div><div style="left:510.70px;top:309.60px;width:0;height:0;border-left:2.50px solid transparent;border-right:2.50px solid transparent;border-top:3.60px solid #0b4fb3;"></div><div style="left:498.00px;top:317.60px;width:30.00px;height:25.00px;background:linear-gradient(#b7bfc8,#a4acb6);"></div><div style="left:501.00px;top:323.00px;width:17.30px;height:9.60px;background:#f4f4f4;"></div><svg style="position:absolute;left:502.0px;top:324.3px" width="13.5" height="5.6" viewBox="502.0 324.3 13.5 5.6"><rect x="502.00" y="324.30" width="0.50" height="5.60" fill="#111"/><rect x="503.00" y="324.30" width="0.80" height="5.60" fill="#301010"/><rect x="504.30" y="324.30" width="0.80" height="5.60" fill="#1a1a1a"/><rect x="505.90" y="324.30" width="0.50" height="5.60" fill="#1a1a1a"/><rect x="507.20" y="324.30" width="1.00" height="5.60" fill="#101030"/><rect x="509.00" y="324.30" width="0.80" height="5.60" fill="#101030"/><rect x="510.60" y="324.30" width="0.80" height="5.60" fill="#111"/><rect x="511.90" y="324.30" width="0.80" height="5.60" fill="#301010"/><rect x="513.30" y="324.30" width="1.00" height="5.60" fill="#1a1a1a"/><rect x="514.90" y="324.30" width="0.50" height="5.60" fill="#1a1a1a"/></svg><div style="left:513.50px;top:325.50px;width:6.50px;height:7.00px;background:#9a7c70;border-radius:50% 50% 40% 40%;"></div><div style="left:516.20px;top:328.50px;width:4.20px;height:14.00px;background:#e8c8b0;border-radius:1.5px;transform:rotate(-32deg);transform-origin:50% 0;"></div><span class="t s" style="left:506.00px;top:341.40px;font-size:15.20px;color:#111;font-weight:bold;">扫描录入</span><div style="left:480.80px;top:340.90px;width:14.50px;height:2.60px;background:#0b4fb3;box-shadow:0 0 .8px .5px rgba(255,255,255,.85);"></div><div style="left:477.50px;top:339.70px;width:0;height:0;border-top:2.50px solid transparent;border-bottom:2.50px solid transparent;border-right:3.80px solid #0b4fb3;"></div><span class="t s" style="left:420.50px;top:236.20px;font-size:10.00px;color:#444;">仓库管理系统</span><div style="left:421.70px;top:239.00px;width:13.30px;height:13.50px;background:linear-gradient(135deg,#c8ccd2,#7c848e);border:.5px solid #555;"></div><div style="left:424.50px;top:241.50px;width:8.50px;height:7.50px;background:#394a5c;"></div><div style="left:429.50px;top:243.50px;width:3.00px;height:2.60px;background:#58c878;"></div><div style="left:419.20px;top:247.50px;width:6.50px;height:5.50px;background:#2e2a28;border-radius:1px;transform:rotate(35deg);"></div><div style="left:420.00px;top:253.00px;width:17.40px;height:14.70px;background:linear-gradient(#e7c6ea,#d3b4e0);border:.5px solid #b090c0;border-radius:.8px;"></div><div style="left:424.00px;top:256.60px;width:12.80px;height:10.60px;background:linear-gradient(#c3e6ee,#a4d4e0);border:.5px solid #78a8b8;"></div><span class="t s" style="left:427.00px;top:259.50px;font-size:10.40px;color:#234;">WMS</span><div style="left:429.60px;top:263.00px;width:1.60px;height:3.40px;background:#223;"></div><div style="left:437.00px;top:233.30px;width:30.80px;height:33.80px;background:#f1f090;"></div><div style="left:440.00px;top:235.60px;width:23.40px;height:5.00px;background:linear-gradient(#c4e0f6,#f4faff 55%,#d6eaf8);border-radius:2.6px;box-shadow:0 .4px .6px rgba(90,120,160,.5);text-align:center;"><span class="t" style="position:static;font-size:2.9px;color:#2f48b0;line-height:5.00px;display:block;">作业任务分配</span></div><div style="left:440.00px;top:243.80px;width:23.40px;height:5.20px;background:linear-gradient(#c4e0f6,#f4faff 55%,#d6eaf8);border-radius:2.6px;box-shadow:0 .4px .6px rgba(90,120,160,.5);text-align:center;"><span class="t" style="position:static;font-size:2.9px;color:#2f48b0;line-height:5.20px;display:block;">出库作业单</span></div><div style="left:440.00px;top:251.30px;width:23.40px;height:5.30px;background:linear-gradient(#c4e0f6,#f4faff 55%,#d6eaf8);border-radius:2.6px;box-shadow:0 .4px .6px rgba(90,120,160,.5);text-align:center;"><span class="t" style="position:static;font-size:2.9px;color:#2f48b0;line-height:5.30px;display:block;">作业任务单</span></div><span class="t s" style="left:439.20px;top:258.20px;font-size:16.00px;color:#0a0a0a;font-weight:bold;">库存查数量置</span><span class="t s" style="left:438.60px;top:262.80px;font-size:16.00px;color:#0a0a0a;font-weight:bold;">温度分析任务</span><div style="left:469.00px;top:254.70px;width:34.50px;height:2.40px;background:#0b4fb3;box-shadow:0 0 .8px .5px rgba(255,255,255,.85);"></div><div style="left:503.00px;top:253.40px;width:0;height:0;border-top:2.50px solid transparent;border-bottom:2.50px solid transparent;border-left:4.00px solid #0b4fb3;"></div><svg style="position:absolute;left:506px;top:245px" width="22" height="24" viewBox="506 245 22 24"><polygon points="508.2,250 513,249.6 513,261.2 508.2,261.2" fill="#561a8e"/><polygon points="508.2,250 510.4,247 524.8,247 524.8,249.8 513,249.8" fill="#9a72c8"/><rect x="513" y="249.8" width="11.8" height="11.4" fill="#b4aed6"/><path d="M514.6 261.2 L514.6 256 Q514.6 251.6 518.4 251.6 Q522.3 251.6 522.3 256 L522.3 261.2 Z" fill="#e8f0f6" stroke="#1e5a4a" stroke-width="1"/><rect x="516.4" y="253.4" width="1.8" height="7.8" fill="#3a9ad8"/><rect x="518.8" y="253.4" width="1.6" height="7.8" fill="#48b070"/><rect x="508.2" y="261" width="16.6" height="5.3" fill="#ecec30"/></svg><span class="t s" style="left:510.60px;top:259.20px;font-size:13.60px;color:#1a2a30;font-weight:bold;letter-spacing:.6px;">作业站</span><span class="t s" style="left:515.20px;top:263.60px;font-size:12.80px;color:#1a2a30;font-weight:bold;">台</span><div style="left:528.00px;top:245.00px;width:19.20px;height:3.30px;background:linear-gradient(#d4ecf2,#e4f4f6 55%,#9cccd4);border-radius:1.8px;text-align:center;"><span class="t" style="position:static;display:block;font-size:3px;line-height:3.1px;color:#2c3c94;font-weight:bold;">收货作业</span></div><div style="left:528.00px;top:253.00px;width:19.20px;height:3.30px;background:linear-gradient(#d4ecf2,#e4f4f6 55%,#9cccd4);border-radius:1.8px;text-align:center;"><span class="t" style="position:static;display:block;font-size:3px;line-height:3.1px;color:#2c3c94;font-weight:bold;">拣货作业</span></div><div style="left:528.00px;top:260.40px;width:19.20px;height:3.30px;background:linear-gradient(#d4ecf2,#e4f4f6 55%,#9cccd4);border-radius:1.8px;text-align:center;"><span class="t" style="position:static;display:block;font-size:3px;line-height:3.1px;color:#2c3c94;font-weight:bold;">上架作业</span></div><div style="left:347.50px;top:308.10px;width:3.00px;height:18.80px;background:#0b4fb3;box-shadow:0 0 .8px .5px rgba(255,255,255,.85);"></div><div style="left:344.70px;top:304.00px;width:0;height:0;border-left:4.30px solid transparent;border-right:4.30px solid transparent;border-bottom:4.60px solid #0b4fb3;"></div><div style="left:344.70px;top:326.40px;width:0;height:0;border-left:4.30px solid transparent;border-right:4.30px solid transparent;border-top:4.60px solid #0b4fb3;"></div><div style="left:349.00px;top:318.30px;width:59.60px;height:3.30px;background:#0b4fb3;box-shadow:0 0 .8px .5px rgba(255,255,255,.9);"></div><svg style="position:absolute;left:330.7px;top:329.0px" width="35.3" height="17.2" viewBox="330.7 329.0 35.3 17.2"><defs><linearGradient id="bf331" x1="0" y1="0" x2="0" y2="1"><stop offset="0" stop-color="#e0901e"/><stop offset="1" stop-color="#cc7a10"/></linearGradient></defs><polygon points="331.7,333.0 361.8,333.0 361.8,345.2 331.7,345.2" fill="url(#bf331)"/><polygon points="331.7,333.0 334.9,330.0 365.0,330.0 361.8,333.0" fill="#f0b050"/><polygon points="361.8,333.0 365.0,330.0 365.0,342.2 361.8,345.2" fill="#a8640e"/></svg><span class="t s" style="left:335.80px;top:336.20px;font-size:18.40px;color:#3a1c00;font-weight:bold;">不合格品库</span><svg style="position:absolute;left:411.2px;top:309.8px" width="45.2" height="16.4" viewBox="411.2 309.8 45.2 16.4"><defs><linearGradient id="bf412" x1="0" y1="0" x2="0" y2="1"><stop offset="0" stop-color="#e0901e"/><stop offset="1" stop-color="#cc7a10"/></linearGradient></defs><polygon points="412.2,314.4 451.4,314.4 451.4,325.2 412.2,325.2" fill="url(#bf412)"/><polygon points="412.2,314.4 416.2,310.8 455.4,310.8 451.4,314.4" fill="#f0b050"/><polygon points="451.4,314.4 455.4,310.8 455.4,321.6 451.4,325.2" fill="#a8640e"/></svg><span class="t s" style="left:416.20px;top:317.80px;font-size:18.40px;color:#3a1c00;font-weight:bold;">不合格品暂存区</span><span class="t s" style="left:452.50px;top:307.40px;font-size:12.00px;color:#222;font-weight:bold;">NG</span><div style="left:460.60px;top:309.80px;width:8.20px;height:8.00px;border:2.7px solid #0b4fb3;border-left:none;border-top:none;border-radius:0 0 4px 0;"></div><div style="left:457.2px;top:313.5px;width:0;height:0;border-top:2.9px solid transparent;border-bottom:2.9px solid transparent;border-right:3.8px solid #0b4fb3;"></div><div style="left:382.50px;top:338.90px;width:36.20px;height:14.00px;background:linear-gradient(#9a2618,#b03a26 35%,#c87460 75%,#d8a090);border-radius:7px;"></div><span class="t s" style="left:390.60px;top:343.00px;font-size:20.40px;color:#fbeeea;">入库完成</span><div style="left:422.30px;top:342.50px;width:13.50px;height:2.60px;background:#0b4fb3;box-shadow:0 0 .8px .5px rgba(255,255,255,.85);"></div><div style="left:419.00px;top:341.30px;width:0;height:0;border-top:2.50px solid transparent;border-bottom:2.50px solid transparent;border-right:3.80px solid #0b4fb3;"></div><div style="left:437.00px;top:330.40px;width:36.40px;height:21.00px;background:linear-gradient(#c8ced6,#b6bec8 55%,#cfd6de 75%,rgba(225,234,244,.6) 100%);"></div><div style="left:441.50px;top:335.00px;width:5.60px;height:4.60px;background:#d83030;border-radius:.6px;"></div><div style="left:447.00px;top:334.00px;width:6.60px;height:5.60px;background:linear-gradient(#50c848,#2a9a2c);border-radius:1.6px;"></div><div style="left:440.50px;top:339.60px;width:14.00px;height:1.60px;background:#38c0b8;"></div><div style="left:441.00px;top:341.00px;width:1.20px;height:6.20px;background:#3a7a78;"></div><div style="left:453.00px;top:341.00px;width:1.20px;height:6.20px;background:#3a7a78;"></div><div style="left:453.50px;top:333.00px;width:1.00px;height:14.50px;background:#d8c020;transform:rotate(6deg);"></div><div style="left:457.00px;top:335.00px;width:7.00px;height:1.00px;background:#222;"></div><div style="left:457.00px;top:335.00px;width:1.00px;height:9.00px;background:#222;"></div><div style="left:463.40px;top:335.00px;width:1.00px;height:9.00px;background:#222;"></div><div style="left:458.60px;top:338.50px;width:2.40px;height:4.00px;background:#6a3fa0;"></div><div style="left:456.00px;top:341.50px;width:9.60px;height:4.40px;background:#e03a20;border-radius:1px;"></div><div style="left:455.50px;top:344.50px;width:4.60px;height:3.20px;background:#f0c020;border-radius:.8px;"></div><div style="left:467.50px;top:333.00px;width:4.50px;height:12.50px;background:#2a2c30;border-radius:1px;transform:rotate(8deg);"><div style="left:0.80px;top:1.00px;width:2.60px;height:4.00px;background:#8aa;"></div></div><span class="t s" style="left:448.50px;top:351.20px;font-size:12.00px;color:#c0c4cc;">入库上架</span><div style="left:320.00px;top:224.00px;width:8.00px;height:136.00px;background:linear-gradient(90deg,#fff 35%,rgba(255,255,255,0));"></div><div style="left:320.00px;top:353.00px;width:236.00px;height:7.00px;background:linear-gradient(rgba(255,255,255,0),#fff 60%);"></div></div>
<svg class="frame" width="600" height="450" viewBox="0 0 600 450">
<rect x="52.5" y="200.7" width="500" height="17.8" fill="#e3002a"/>
<path d="M421.6 413.2 L52 413.2 A49.2 35 0 0 1 2.8 378 L2.8 69.5 A51 35 0 0 1 54 34.45 L548 34.45 A48.3 34 0 0 1 596.3 68.5 L596.3 380 L525.3 412.9" fill="none" stroke="#e2000f" stroke-width="2.1" stroke-linejoin="miter"/>
<path d="M421.6 413.2 L512.65 370.3" fill="none" stroke="#e2000f" stroke-width="2.1" stroke-linecap="round"/>
<circle cx="512.65" cy="370.3" r="7.5" fill="#0b57a7" stroke="#e2000f" stroke-width="2.1"/>
<circle cx="525.3" cy="412.9" r="7.6" fill="#0b57a7" stroke="#e2000f" stroke-width="2.1"/>
</svg>
</body></html>
